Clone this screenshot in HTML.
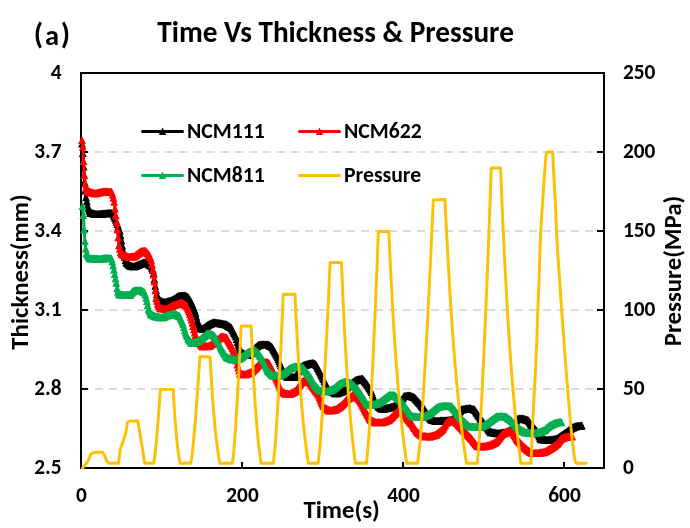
<!DOCTYPE html>
<html><head><meta charset="utf-8"><title>Time Vs Thickness &amp; Pressure</title>
<style>html,body{margin:0;padding:0;background:#fff;}body{width:690px;height:528px;overflow:hidden;}svg{display:block;}</style>
</head><body><svg width="690" height="528" viewBox="0 0 690 528"><rect width="690" height="528" fill="#fff"/><line x1="81" y1="152" x2="604" y2="152" stroke="#D0D0D0" stroke-width="1.6" stroke-dasharray="8 6"/><line x1="81" y1="231" x2="604" y2="231" stroke="#D0D0D0" stroke-width="1.6" stroke-dasharray="8 6"/><line x1="81" y1="310" x2="604" y2="310" stroke="#D0D0D0" stroke-width="1.6" stroke-dasharray="8 6"/><line x1="81" y1="389" x2="604" y2="389" stroke="#D0D0D0" stroke-width="1.6" stroke-dasharray="8 6"/><rect x="81" y="73" width="523" height="395" fill="none" stroke="#000" stroke-width="2"/><path d="M81 152h7M604 152h-7M81 231h7M604 231h-7M81 310h7M604 310h-7M81 389h7M604 389h-7M242 468v-6M403 468v-6M564 468v-6" stroke="#000" stroke-width="2" fill="none"/><polyline points="82,143.5 82.8,152.8 83.6,166.4 84.4,181.5 85.2,190.3 86,197.1 86.8,201.1 87.6,205.2 88.4,208.2 89.2,210.4 90,212.5 90.9,212.8 91.7,213 92.5,213.2 93.3,213.5 94.1,213.7 94.9,214 95.7,214 96.5,214 97.3,214 98.1,214 98.9,214 99.7,214 100.5,213.9 101.3,213.9 102.1,213.8 102.9,213.7 103.7,213.6 104.5,213.5 105.3,213.5 106.2,213.4 107,213.3 107.8,213.2 108.6,213.1 109.4,213.1 110.2,213 111,213.2 111.8,213.3 112.6,213.4 113.4,214.4 114.2,216.1 115,217.8 115.8,219.6 116.6,221.7 117.4,223.9 118.2,226.1 119,228.3 119.8,230.5 120.6,235.1 121.4,240.2 122.2,245.2 123.1,250.2 123.9,253.4 124.7,256.7 125.5,259.9 126.3,262.2 127.1,262.9 127.9,263.6 128.7,264.4 129.5,265.1 130.3,265.6 131.1,265.8 131.9,266 132.7,266.2 133.5,266.4 134.3,266.4 135.1,266 135.9,265.7 136.7,265.4 137.5,265 138.3,264.7 139.2,264.4 140,264 140.8,263.7 141.6,263.3 142.4,263 143.2,262.6 144,262.5 144.8,262.5 145.6,262.5 146.4,262.7 147.2,263.2 148,263.7 148.8,264.2 149.6,264.7 150.4,265.2 151.2,266 152,267.8 152.8,269.6 153.6,272.8 154.4,279.2 155.3,285.6 156.1,289.8 156.9,293.8 157.7,296.3 158.5,297.8 159.3,299.2 160.1,300.5 160.9,300.9 161.7,301.3 162.5,301.8 163.3,302 164.1,302 164.9,302 165.7,302 166.5,301.9 167.3,301.7 168.1,301.4 168.9,301.1 169.7,300.9 170.6,300.6 171.4,300.3 172.2,300.1 173,299.6 173.8,299.1 174.6,298.6 175.4,298 176.2,297.5 177,296.9 177.8,296.4 178.6,296 179.4,295.9 180.2,295.9 181,295.8 181.8,295.7 182.6,295.7 183.4,295.6 184.2,295.5 185,295.7 185.8,296.1 186.7,296.4 187.5,296.8 188.3,297.4 189.1,298.6 189.9,299.9 190.7,301.1 191.5,302.4 192.3,304 193.1,306.1 193.9,308.3 194.7,310.4 195.5,312.9 196.3,316.3 197.1,319.6 197.9,322 198.7,324.2 199.5,326.5 200.3,327.8 201.1,328.2 201.9,328.7 202.8,328.8 203.6,328.2 204.4,327.6 205.2,327 206,326.4 206.8,325.8 207.6,325.2 208.4,324.7 209.2,324.3 210,323.9 210.8,323.6 211.6,323.2 212.4,322.8 213.2,322.5 214,322.6 214.8,322.7 215.6,322.7 216.4,322.8 217.2,322.9 218,323 218.8,323.1 219.7,323.2 220.5,323.4 221.3,323.5 222.1,323.7 222.9,323.8 223.7,324 224.5,324.1 225.3,324.3 226.1,324.4 226.9,324.8 227.7,325.3 228.5,325.9 229.3,326.4 230.1,326.9 230.9,327.5 231.7,328.1 232.5,329.7 233.3,331.3 234.1,332.9 235,334.5 235.8,336.2 236.6,339 237.4,341.8 238.2,344.6 239,346.6 239.8,348.6 240.6,350.5 241.4,352.1 242.2,352.6 243,353.1 243.8,353.6 244.6,354.1 245.4,354.6 246.2,355 247,354.9 247.8,354.8 248.6,354.7 249.4,354.6 250.2,354.2 251.1,353.1 251.9,352.1 252.7,351 253.5,350 254.3,348.9 255.1,347.9 255.9,347.2 256.7,346.5 257.5,345.8 258.3,345.2 259.1,344.8 259.9,344.8 260.7,344.7 261.5,344.7 262.3,344.7 263.1,344.7 263.9,344.6 264.7,344.6 265.5,344.6 266.3,344.6 267.1,344.5 268,344.5 268.8,344.9 269.6,345.4 270.4,345.9 271.2,346.5 272,347 272.8,348.3 273.6,349.7 274.4,351.1 275.2,352.4 276,353.8 276.8,355.3 277.6,357.2 278.4,359.2 279.2,361.1 280,363.1 280.8,364.8 281.6,366.5 282.4,368.2 283.2,369.9 284.1,371.4 284.9,373 285.7,374.5 286.5,376 287.3,377 288.1,377 288.9,377 289.7,377 290.5,377 291.3,377 292.1,377 292.9,377 293.7,377 294.5,377 295.3,376.4 296.1,375 296.9,373.5 297.7,372.1 298.5,370.6 299.4,369.2 300.2,367.9 301,367.2 301.8,366.5 302.6,365.9 303.4,365.4 304.2,365.1 305,364.9 305.8,364.6 306.6,364.4 307.4,364.1 308.2,363.9 309,363.7 309.8,363.6 310.6,363.4 311.4,363.3 312.2,363.1 313,363 313.8,363.4 314.6,363.8 315.5,364.2 316.3,365 317.1,366.5 317.9,367.9 318.7,369.4 319.5,370.9 320.3,372.5 321.1,374.1 321.9,375.7 322.7,377.4 323.5,379 324.3,380.6 325.1,382.2 325.9,383.7 326.7,385.3 327.5,386.8 328.3,388.3 329.1,389.9 329.9,390.4 330.7,390.8 331.6,391.2 332.4,391.6 333.2,392 334,392.5 334.8,392.9 335.6,393.3 336.4,393.4 337.2,393.1 338,392.8 338.8,392.5 339.6,392.2 340.4,392 341.2,391.7 342,391.4 342.8,391 343.6,390.3 344.4,389.5 345.2,388.8 346,388 346.8,387.3 347.7,386.5 348.5,385.8 349.3,385 350.1,384.4 350.9,383.8 351.7,383.2 352.5,382.5 353.3,381.9 354.1,381.3 354.9,380.7 355.7,380.1 356.5,379.8 357.3,379.6 358.1,379.5 358.9,379.3 359.7,379.1 360.5,379 361.3,378.8 362.1,378.7 362.9,379.2 363.8,380.2 364.6,381.2 365.4,382.2 366.2,383.2 367,384.2 367.8,385.2 368.6,386.5 369.4,387.8 370.2,389.1 371,390.5 371.8,391.8 372.6,394.3 373.4,396.8 374.2,399.2 375,400.9 375.8,402.3 376.6,403.6 377.4,405 378.2,406.2 379,406.7 379.9,407.3 380.7,407.8 381.5,408.4 382.3,408.9 383.1,408.9 383.9,408.7 384.7,408.5 385.5,408.3 386.3,408.2 387.1,408 387.9,407.8 388.7,407.6 389.5,407.5 390.3,407.3 391.1,407.1 391.9,406.9 392.7,406.6 393.5,406.3 394.3,406 395.1,405.6 396,405.3 396.8,405 397.6,404.7 398.4,404.3 399.2,403.1 400,402 400.8,400.8 401.6,399.7 402.4,398.5 403.2,397.4 404,396.2 404.8,396.1 405.6,396 406.4,395.9 407.2,395.8 408,395.7 408.8,395.6 409.6,395.6 410.4,395.9 411.2,396.2 412.1,396.5 412.9,396.8 413.7,397.1 414.5,397.4 415.3,398.3 416.1,399.2 416.9,400.1 417.7,401 418.5,401.9 419.3,402.8 420.1,403.7 420.9,404.8 421.7,405.8 422.5,406.8 423.3,407.8 424.1,408.8 424.9,409.8 425.7,411 426.5,412.4 427.3,413.7 428.2,415.1 429,416.4 429.8,417.8 430.6,419 431.4,419.3 432.2,419.6 433,419.9 433.8,420.2 434.6,420.5 435.4,420.8 436.2,421 437,420.9 437.8,420.9 438.6,420.8 439.4,420.8 440.2,420.7 441,420.7 441.8,420.7 442.6,420.6 443.4,420.6 444.2,420.6 445.1,420.6 445.9,420.5 446.7,420.5 447.5,420.4 448.3,420.3 449.1,420.2 449.9,420.2 450.7,420.1 451.5,420 452.3,419.3 453.1,418.5 453.9,417.8 454.7,417.1 455.5,416.3 456.3,415.6 457.1,414.8 457.9,413.8 458.7,412.8 459.5,411.7 460.4,410.7 461.2,409.7 462,409.4 462.8,409.3 463.6,409.1 464.4,409 465.2,408.9 466,408.7 466.8,408.6 467.6,408.5 468.4,408.3 469.2,408.2 470,408.4 470.8,408.6 471.6,408.8 472.4,409 473.2,409.2 474,409.4 474.8,409.9 475.6,411.1 476.5,412.3 477.3,413.5 478.1,414.7 478.9,415.9 479.7,417.2 480.5,418.3 481.3,419.4 482.1,420.5 482.9,421.6 483.7,422.7 484.5,423.8 485.3,424.9 486.1,426 486.9,427.1 487.7,428.2 488.5,429.3 489.3,430.4 490.1,431.5 490.9,432.1 491.7,432.2 492.6,432.4 493.4,432.5 494.2,432.6 495,432.8 495.8,432.9 496.6,433.1 497.4,433.2 498.2,433.4 499,433.3 499.8,433.2 500.6,433 501.4,432.9 502.2,432.7 503,432.6 503.8,432.5 504.6,432.3 505.4,432.2 506.2,432 507,431.7 507.8,431.3 508.7,430.9 509.5,430.5 510.3,430.1 511.1,429.7 511.9,429.1 512.7,427.5 513.5,425.9 514.3,424.3 515.1,422.7 515.9,421.2 516.7,419.6 517.5,419 518.3,418.9 519.1,418.8 519.9,418.7 520.7,418.6 521.5,418.6 522.3,418.5 523.1,418.7 523.9,419 524.8,419.2 525.6,419.4 526.4,419.7 527.2,419.9 528,420.1 528.8,420.9 529.6,422.1 530.4,423.4 531.2,424.6 532,425.8 532.8,426.6 533.6,427.5 534.4,428.4 535.2,429.2 536,430.1 536.8,430.9 537.6,432.6 538.4,434.3 539.2,436.1 540,437.8 540.9,439 541.7,439.2 542.5,439.3 543.3,439.4 544.1,439.6 544.9,439.7 545.7,439.8 546.5,439.9 547.3,440 548.1,439.9 548.9,439.8 549.7,439.8 550.5,439.7 551.3,439.6 552.1,439.6 552.9,439.5 553.7,439.3 554.5,439.1 555.3,438.9 556.1,438.7 557,438.5 557.8,438 558.6,437.4 559.4,436.9 560.2,436.4 561,435.8 561.8,435.3 562.6,434.7 563.4,434.1 564.2,433.6 565,433 565.8,432.5 566.6,431.9 567.4,431.3 568.2,430.7 569,430 569.8,429.4 570.6,428.8 571.4,428.2 572.2,427.7 573,427.4 573.9,427.1 574.7,426.7 575.5,426.4 576.3,426.1 577.1,426 577.9,425.9 578.7,425.9 579.5,425.8 580.3,425.7 581.1,425.7 581.9,425.6" fill="none" stroke="#000000" stroke-width="3" stroke-linejoin="round" stroke-linecap="round"/><path d="M82 139.4l3.9 8.2h-7.8zM82.8 148.7l3.9 8.2h-7.8zM83.6 162.3l3.9 8.2h-7.8zM84.4 177.4l3.9 8.2h-7.8zM85.2 186.2l3.9 8.2h-7.8zM86 193l3.9 8.2h-7.8zM86.8 197l3.9 8.2h-7.8zM87.6 201.1l3.9 8.2h-7.8zM88.4 204.1l3.9 8.2h-7.8zM89.2 206.3l3.9 8.2h-7.8zM90 208.4l3.9 8.2h-7.8zM90.9 208.7l3.9 8.2h-7.8zM91.7 208.9l3.9 8.2h-7.8zM92.5 209.1l3.9 8.2h-7.8zM93.3 209.4l3.9 8.2h-7.8zM94.1 209.6l3.9 8.2h-7.8zM94.9 209.9l3.9 8.2h-7.8zM95.7 209.9l3.9 8.2h-7.8zM96.5 209.9l3.9 8.2h-7.8zM97.3 209.9l3.9 8.2h-7.8zM98.1 209.9l3.9 8.2h-7.8zM98.9 209.9l3.9 8.2h-7.8zM99.7 209.9l3.9 8.2h-7.8zM100.5 209.8l3.9 8.2h-7.8zM101.3 209.8l3.9 8.2h-7.8zM102.1 209.7l3.9 8.2h-7.8zM102.9 209.6l3.9 8.2h-7.8zM103.7 209.5l3.9 8.2h-7.8zM104.5 209.4l3.9 8.2h-7.8zM105.3 209.4l3.9 8.2h-7.8zM106.2 209.3l3.9 8.2h-7.8zM107 209.2l3.9 8.2h-7.8zM107.8 209.1l3.9 8.2h-7.8zM108.6 209l3.9 8.2h-7.8zM109.4 209l3.9 8.2h-7.8zM110.2 208.9l3.9 8.2h-7.8zM111 209.1l3.9 8.2h-7.8zM111.8 209.2l3.9 8.2h-7.8zM112.6 209.3l3.9 8.2h-7.8zM113.4 210.3l3.9 8.2h-7.8zM114.2 212l3.9 8.2h-7.8zM115 213.7l3.9 8.2h-7.8zM115.8 215.5l3.9 8.2h-7.8zM116.6 217.6l3.9 8.2h-7.8zM117.4 219.8l3.9 8.2h-7.8zM118.2 222l3.9 8.2h-7.8zM119 224.2l3.9 8.2h-7.8zM119.8 226.4l3.9 8.2h-7.8zM120.6 231l3.9 8.2h-7.8zM121.4 236.1l3.9 8.2h-7.8zM122.2 241.2l3.9 8.2h-7.8zM123.1 246.1l3.9 8.2h-7.8zM123.9 249.3l3.9 8.2h-7.8zM124.7 252.6l3.9 8.2h-7.8zM125.5 255.8l3.9 8.2h-7.8zM126.3 258.1l3.9 8.2h-7.8zM127.1 258.8l3.9 8.2h-7.8zM127.9 259.5l3.9 8.2h-7.8zM128.7 260.3l3.9 8.2h-7.8zM129.5 261l3.9 8.2h-7.8zM130.3 261.5l3.9 8.2h-7.8zM131.1 261.7l3.9 8.2h-7.8zM131.9 261.9l3.9 8.2h-7.8zM132.7 262.1l3.9 8.2h-7.8zM133.5 262.3l3.9 8.2h-7.8zM134.3 262.3l3.9 8.2h-7.8zM135.1 261.9l3.9 8.2h-7.8zM135.9 261.6l3.9 8.2h-7.8zM136.7 261.3l3.9 8.2h-7.8zM137.5 260.9l3.9 8.2h-7.8zM138.3 260.6l3.9 8.2h-7.8zM139.2 260.3l3.9 8.2h-7.8zM140 259.9l3.9 8.2h-7.8zM140.8 259.6l3.9 8.2h-7.8zM141.6 259.2l3.9 8.2h-7.8zM142.4 258.9l3.9 8.2h-7.8zM143.2 258.5l3.9 8.2h-7.8zM144 258.4l3.9 8.2h-7.8zM144.8 258.4l3.9 8.2h-7.8zM145.6 258.4l3.9 8.2h-7.8zM146.4 258.6l3.9 8.2h-7.8zM147.2 259.1l3.9 8.2h-7.8zM148 259.6l3.9 8.2h-7.8zM148.8 260.1l3.9 8.2h-7.8zM149.6 260.6l3.9 8.2h-7.8zM150.4 261.1l3.9 8.2h-7.8zM151.2 261.9l3.9 8.2h-7.8zM152 263.7l3.9 8.2h-7.8zM152.8 265.5l3.9 8.2h-7.8zM153.6 268.7l3.9 8.2h-7.8zM154.4 275.1l3.9 8.2h-7.8zM155.3 281.5l3.9 8.2h-7.8zM156.1 285.7l3.9 8.2h-7.8zM156.9 289.7l3.9 8.2h-7.8zM157.7 292.2l3.9 8.2h-7.8zM158.5 293.7l3.9 8.2h-7.8zM159.3 295.1l3.9 8.2h-7.8zM160.1 296.4l3.9 8.2h-7.8zM160.9 296.8l3.9 8.2h-7.8zM161.7 297.2l3.9 8.2h-7.8zM162.5 297.6l3.9 8.2h-7.8zM163.3 297.9l3.9 8.2h-7.8zM164.1 297.9l3.9 8.2h-7.8zM164.9 297.9l3.9 8.2h-7.8zM165.7 297.9l3.9 8.2h-7.8zM166.5 297.8l3.9 8.2h-7.8zM167.3 297.6l3.9 8.2h-7.8zM168.1 297.3l3.9 8.2h-7.8zM168.9 297l3.9 8.2h-7.8zM169.7 296.8l3.9 8.2h-7.8zM170.6 296.5l3.9 8.2h-7.8zM171.4 296.2l3.9 8.2h-7.8zM172.2 296l3.9 8.2h-7.8zM173 295.5l3.9 8.2h-7.8zM173.8 295l3.9 8.2h-7.8zM174.6 294.4l3.9 8.2h-7.8zM175.4 293.9l3.9 8.2h-7.8zM176.2 293.4l3.9 8.2h-7.8zM177 292.8l3.9 8.2h-7.8zM177.8 292.3l3.9 8.2h-7.8zM178.6 291.9l3.9 8.2h-7.8zM179.4 291.8l3.9 8.2h-7.8zM180.2 291.8l3.9 8.2h-7.8zM181 291.7l3.9 8.2h-7.8zM181.8 291.6l3.9 8.2h-7.8zM182.6 291.6l3.9 8.2h-7.8zM183.4 291.5l3.9 8.2h-7.8zM184.2 291.4l3.9 8.2h-7.8zM185 291.6l3.9 8.2h-7.8zM185.8 292l3.9 8.2h-7.8zM186.7 292.3l3.9 8.2h-7.8zM187.5 292.7l3.9 8.2h-7.8zM188.3 293.3l3.9 8.2h-7.8zM189.1 294.5l3.9 8.2h-7.8zM189.9 295.8l3.9 8.2h-7.8zM190.7 297l3.9 8.2h-7.8zM191.5 298.3l3.9 8.2h-7.8zM192.3 299.9l3.9 8.2h-7.8zM193.1 302l3.9 8.2h-7.8zM193.9 304.2l3.9 8.2h-7.8zM194.7 306.3l3.9 8.2h-7.8zM195.5 308.8l3.9 8.2h-7.8zM196.3 312.2l3.9 8.2h-7.8zM197.1 315.5l3.9 8.2h-7.8zM197.9 317.9l3.9 8.2h-7.8zM198.7 320.1l3.9 8.2h-7.8zM199.5 322.4l3.9 8.2h-7.8zM200.3 323.7l3.9 8.2h-7.8zM201.1 324.1l3.9 8.2h-7.8zM201.9 324.6l3.9 8.2h-7.8zM202.8 324.7l3.9 8.2h-7.8zM203.6 324.1l3.9 8.2h-7.8zM204.4 323.5l3.9 8.2h-7.8zM205.2 322.9l3.9 8.2h-7.8zM206 322.3l3.9 8.2h-7.8zM206.8 321.7l3.9 8.2h-7.8zM207.6 321.1l3.9 8.2h-7.8zM208.4 320.6l3.9 8.2h-7.8zM209.2 320.2l3.9 8.2h-7.8zM210 319.8l3.9 8.2h-7.8zM210.8 319.5l3.9 8.2h-7.8zM211.6 319.1l3.9 8.2h-7.8zM212.4 318.7l3.9 8.2h-7.8zM213.2 318.4l3.9 8.2h-7.8zM214 318.5l3.9 8.2h-7.8zM214.8 318.6l3.9 8.2h-7.8zM215.6 318.6l3.9 8.2h-7.8zM216.4 318.7l3.9 8.2h-7.8zM217.2 318.8l3.9 8.2h-7.8zM218 318.9l3.9 8.2h-7.8zM218.8 319l3.9 8.2h-7.8zM219.7 319.1l3.9 8.2h-7.8zM220.5 319.3l3.9 8.2h-7.8zM221.3 319.4l3.9 8.2h-7.8zM222.1 319.6l3.9 8.2h-7.8zM222.9 319.7l3.9 8.2h-7.8zM223.7 319.9l3.9 8.2h-7.8zM224.5 320l3.9 8.2h-7.8zM225.3 320.2l3.9 8.2h-7.8zM226.1 320.3l3.9 8.2h-7.8zM226.9 320.7l3.9 8.2h-7.8zM227.7 321.2l3.9 8.2h-7.8zM228.5 321.8l3.9 8.2h-7.8zM229.3 322.3l3.9 8.2h-7.8zM230.1 322.8l3.9 8.2h-7.8zM230.9 323.4l3.9 8.2h-7.8zM231.7 324l3.9 8.2h-7.8zM232.5 325.6l3.9 8.2h-7.8zM233.3 327.2l3.9 8.2h-7.8zM234.1 328.8l3.9 8.2h-7.8zM235 330.4l3.9 8.2h-7.8zM235.8 332.1l3.9 8.2h-7.8zM236.6 334.9l3.9 8.2h-7.8zM237.4 337.7l3.9 8.2h-7.8zM238.2 340.4l3.9 8.2h-7.8zM239 342.5l3.9 8.2h-7.8zM239.8 344.5l3.9 8.2h-7.8zM240.6 346.4l3.9 8.2h-7.8zM241.4 348l3.9 8.2h-7.8zM242.2 348.5l3.9 8.2h-7.8zM243 349l3.9 8.2h-7.8zM243.8 349.5l3.9 8.2h-7.8zM244.6 350l3.9 8.2h-7.8zM245.4 350.5l3.9 8.2h-7.8zM246.2 350.9l3.9 8.2h-7.8zM247 350.8l3.9 8.2h-7.8zM247.8 350.7l3.9 8.2h-7.8zM248.6 350.6l3.9 8.2h-7.8zM249.4 350.5l3.9 8.2h-7.8zM250.2 350.1l3.9 8.2h-7.8zM251.1 349l3.9 8.2h-7.8zM251.9 348l3.9 8.2h-7.8zM252.7 346.9l3.9 8.2h-7.8zM253.5 345.9l3.9 8.2h-7.8zM254.3 344.8l3.9 8.2h-7.8zM255.1 343.8l3.9 8.2h-7.8zM255.9 343.1l3.9 8.2h-7.8zM256.7 342.4l3.9 8.2h-7.8zM257.5 341.7l3.9 8.2h-7.8zM258.3 341.1l3.9 8.2h-7.8zM259.1 340.7l3.9 8.2h-7.8zM259.9 340.7l3.9 8.2h-7.8zM260.7 340.6l3.9 8.2h-7.8zM261.5 340.6l3.9 8.2h-7.8zM262.3 340.6l3.9 8.2h-7.8zM263.1 340.6l3.9 8.2h-7.8zM263.9 340.5l3.9 8.2h-7.8zM264.7 340.5l3.9 8.2h-7.8zM265.5 340.5l3.9 8.2h-7.8zM266.3 340.5l3.9 8.2h-7.8zM267.1 340.4l3.9 8.2h-7.8zM268 340.4l3.9 8.2h-7.8zM268.8 340.8l3.9 8.2h-7.8zM269.6 341.3l3.9 8.2h-7.8zM270.4 341.8l3.9 8.2h-7.8zM271.2 342.4l3.9 8.2h-7.8zM272 342.9l3.9 8.2h-7.8zM272.8 344.2l3.9 8.2h-7.8zM273.6 345.6l3.9 8.2h-7.8zM274.4 347l3.9 8.2h-7.8zM275.2 348.3l3.9 8.2h-7.8zM276 349.7l3.9 8.2h-7.8zM276.8 351.2l3.9 8.2h-7.8zM277.6 353.1l3.9 8.2h-7.8zM278.4 355.1l3.9 8.2h-7.8zM279.2 357l3.9 8.2h-7.8zM280 359l3.9 8.2h-7.8zM280.8 360.7l3.9 8.2h-7.8zM281.6 362.4l3.9 8.2h-7.8zM282.4 364.1l3.9 8.2h-7.8zM283.2 365.8l3.9 8.2h-7.8zM284.1 367.3l3.9 8.2h-7.8zM284.9 368.9l3.9 8.2h-7.8zM285.7 370.4l3.9 8.2h-7.8zM286.5 371.9l3.9 8.2h-7.8zM287.3 372.9l3.9 8.2h-7.8zM288.1 372.9l3.9 8.2h-7.8zM288.9 372.9l3.9 8.2h-7.8zM289.7 372.9l3.9 8.2h-7.8zM290.5 372.9l3.9 8.2h-7.8zM291.3 372.9l3.9 8.2h-7.8zM292.1 372.9l3.9 8.2h-7.8zM292.9 372.9l3.9 8.2h-7.8zM293.7 372.9l3.9 8.2h-7.8zM294.5 372.9l3.9 8.2h-7.8zM295.3 372.3l3.9 8.2h-7.8zM296.1 370.9l3.9 8.2h-7.8zM296.9 369.4l3.9 8.2h-7.8zM297.7 368l3.9 8.2h-7.8zM298.5 366.5l3.9 8.2h-7.8zM299.4 365.1l3.9 8.2h-7.8zM300.2 363.8l3.9 8.2h-7.8zM301 363.1l3.9 8.2h-7.8zM301.8 362.4l3.9 8.2h-7.8zM302.6 361.8l3.9 8.2h-7.8zM303.4 361.3l3.9 8.2h-7.8zM304.2 361l3.9 8.2h-7.8zM305 360.8l3.9 8.2h-7.8zM305.8 360.5l3.9 8.2h-7.8zM306.6 360.3l3.9 8.2h-7.8zM307.4 360l3.9 8.2h-7.8zM308.2 359.8l3.9 8.2h-7.8zM309 359.6l3.9 8.2h-7.8zM309.8 359.5l3.9 8.2h-7.8zM310.6 359.3l3.9 8.2h-7.8zM311.4 359.2l3.9 8.2h-7.8zM312.2 359l3.9 8.2h-7.8zM313 358.9l3.9 8.2h-7.8zM313.8 359.3l3.9 8.2h-7.8zM314.6 359.7l3.9 8.2h-7.8zM315.5 360.1l3.9 8.2h-7.8zM316.3 360.9l3.9 8.2h-7.8zM317.1 362.4l3.9 8.2h-7.8zM317.9 363.8l3.9 8.2h-7.8zM318.7 365.3l3.9 8.2h-7.8zM319.5 366.8l3.9 8.2h-7.8zM320.3 368.4l3.9 8.2h-7.8zM321.1 370l3.9 8.2h-7.8zM321.9 371.6l3.9 8.2h-7.8zM322.7 373.3l3.9 8.2h-7.8zM323.5 374.9l3.9 8.2h-7.8zM324.3 376.5l3.9 8.2h-7.8zM325.1 378.1l3.9 8.2h-7.8zM325.9 379.6l3.9 8.2h-7.8zM326.7 381.2l3.9 8.2h-7.8zM327.5 382.7l3.9 8.2h-7.8zM328.3 384.2l3.9 8.2h-7.8zM329.1 385.8l3.9 8.2h-7.8zM329.9 386.3l3.9 8.2h-7.8zM330.7 386.7l3.9 8.2h-7.8zM331.6 387.1l3.9 8.2h-7.8zM332.4 387.5l3.9 8.2h-7.8zM333.2 387.9l3.9 8.2h-7.8zM334 388.4l3.9 8.2h-7.8zM334.8 388.8l3.9 8.2h-7.8zM335.6 389.2l3.9 8.2h-7.8zM336.4 389.3l3.9 8.2h-7.8zM337.2 389l3.9 8.2h-7.8zM338 388.7l3.9 8.2h-7.8zM338.8 388.4l3.9 8.2h-7.8zM339.6 388.1l3.9 8.2h-7.8zM340.4 387.9l3.9 8.2h-7.8zM341.2 387.6l3.9 8.2h-7.8zM342 387.3l3.9 8.2h-7.8zM342.8 386.9l3.9 8.2h-7.8zM343.6 386.2l3.9 8.2h-7.8zM344.4 385.4l3.9 8.2h-7.8zM345.2 384.7l3.9 8.2h-7.8zM346 383.9l3.9 8.2h-7.8zM346.8 383.2l3.9 8.2h-7.8zM347.7 382.4l3.9 8.2h-7.8zM348.5 381.7l3.9 8.2h-7.8zM349.3 380.9l3.9 8.2h-7.8zM350.1 380.3l3.9 8.2h-7.8zM350.9 379.7l3.9 8.2h-7.8zM351.7 379.1l3.9 8.2h-7.8zM352.5 378.4l3.9 8.2h-7.8zM353.3 377.8l3.9 8.2h-7.8zM354.1 377.2l3.9 8.2h-7.8zM354.9 376.6l3.9 8.2h-7.8zM355.7 376l3.9 8.2h-7.8zM356.5 375.7l3.9 8.2h-7.8zM357.3 375.5l3.9 8.2h-7.8zM358.1 375.4l3.9 8.2h-7.8zM358.9 375.2l3.9 8.2h-7.8zM359.7 375l3.9 8.2h-7.8zM360.5 374.9l3.9 8.2h-7.8zM361.3 374.7l3.9 8.2h-7.8zM362.1 374.6l3.9 8.2h-7.8zM362.9 375.1l3.9 8.2h-7.8zM363.8 376.1l3.9 8.2h-7.8zM364.6 377.1l3.9 8.2h-7.8zM365.4 378.1l3.9 8.2h-7.8zM366.2 379.1l3.9 8.2h-7.8zM367 380.1l3.9 8.2h-7.8zM367.8 381.1l3.9 8.2h-7.8zM368.6 382.4l3.9 8.2h-7.8zM369.4 383.7l3.9 8.2h-7.8zM370.2 385l3.9 8.2h-7.8zM371 386.4l3.9 8.2h-7.8zM371.8 387.7l3.9 8.2h-7.8zM372.6 390.2l3.9 8.2h-7.8zM373.4 392.7l3.9 8.2h-7.8zM374.2 395.1l3.9 8.2h-7.8zM375 396.8l3.9 8.2h-7.8zM375.8 398.2l3.9 8.2h-7.8zM376.6 399.5l3.9 8.2h-7.8zM377.4 400.9l3.9 8.2h-7.8zM378.2 402.1l3.9 8.2h-7.8zM379 402.6l3.9 8.2h-7.8zM379.9 403.2l3.9 8.2h-7.8zM380.7 403.7l3.9 8.2h-7.8zM381.5 404.3l3.9 8.2h-7.8zM382.3 404.8l3.9 8.2h-7.8zM383.1 404.8l3.9 8.2h-7.8zM383.9 404.6l3.9 8.2h-7.8zM384.7 404.4l3.9 8.2h-7.8zM385.5 404.2l3.9 8.2h-7.8zM386.3 404.1l3.9 8.2h-7.8zM387.1 403.9l3.9 8.2h-7.8zM387.9 403.7l3.9 8.2h-7.8zM388.7 403.5l3.9 8.2h-7.8zM389.5 403.4l3.9 8.2h-7.8zM390.3 403.2l3.9 8.2h-7.8zM391.1 403l3.9 8.2h-7.8zM391.9 402.8l3.9 8.2h-7.8zM392.7 402.5l3.9 8.2h-7.8zM393.5 402.2l3.9 8.2h-7.8zM394.3 401.9l3.9 8.2h-7.8zM395.1 401.5l3.9 8.2h-7.8zM396 401.2l3.9 8.2h-7.8zM396.8 400.9l3.9 8.2h-7.8zM397.6 400.6l3.9 8.2h-7.8zM398.4 400.2l3.9 8.2h-7.8zM399.2 399l3.9 8.2h-7.8zM400 397.9l3.9 8.2h-7.8zM400.8 396.7l3.9 8.2h-7.8zM401.6 395.6l3.9 8.2h-7.8zM402.4 394.4l3.9 8.2h-7.8zM403.2 393.3l3.9 8.2h-7.8zM404 392.1l3.9 8.2h-7.8zM404.8 392l3.9 8.2h-7.8zM405.6 391.9l3.9 8.2h-7.8zM406.4 391.8l3.9 8.2h-7.8zM407.2 391.7l3.9 8.2h-7.8zM408 391.6l3.9 8.2h-7.8zM408.8 391.5l3.9 8.2h-7.8zM409.6 391.5l3.9 8.2h-7.8zM410.4 391.8l3.9 8.2h-7.8zM411.2 392.1l3.9 8.2h-7.8zM412.1 392.4l3.9 8.2h-7.8zM412.9 392.7l3.9 8.2h-7.8zM413.7 393l3.9 8.2h-7.8zM414.5 393.3l3.9 8.2h-7.8zM415.3 394.2l3.9 8.2h-7.8zM416.1 395.1l3.9 8.2h-7.8zM416.9 396l3.9 8.2h-7.8zM417.7 396.9l3.9 8.2h-7.8zM418.5 397.8l3.9 8.2h-7.8zM419.3 398.7l3.9 8.2h-7.8zM420.1 399.6l3.9 8.2h-7.8zM420.9 400.7l3.9 8.2h-7.8zM421.7 401.7l3.9 8.2h-7.8zM422.5 402.7l3.9 8.2h-7.8zM423.3 403.7l3.9 8.2h-7.8zM424.1 404.7l3.9 8.2h-7.8zM424.9 405.7l3.9 8.2h-7.8zM425.7 406.9l3.9 8.2h-7.8zM426.5 408.3l3.9 8.2h-7.8zM427.3 409.6l3.9 8.2h-7.8zM428.2 411l3.9 8.2h-7.8zM429 412.3l3.9 8.2h-7.8zM429.8 413.7l3.9 8.2h-7.8zM430.6 414.9l3.9 8.2h-7.8zM431.4 415.2l3.9 8.2h-7.8zM432.2 415.5l3.9 8.2h-7.8zM433 415.8l3.9 8.2h-7.8zM433.8 416.1l3.9 8.2h-7.8zM434.6 416.4l3.9 8.2h-7.8zM435.4 416.7l3.9 8.2h-7.8zM436.2 416.9l3.9 8.2h-7.8zM437 416.8l3.9 8.2h-7.8zM437.8 416.8l3.9 8.2h-7.8zM438.6 416.7l3.9 8.2h-7.8zM439.4 416.7l3.9 8.2h-7.8zM440.2 416.6l3.9 8.2h-7.8zM441 416.6l3.9 8.2h-7.8zM441.8 416.6l3.9 8.2h-7.8zM442.6 416.5l3.9 8.2h-7.8zM443.4 416.5l3.9 8.2h-7.8zM444.2 416.5l3.9 8.2h-7.8zM445.1 416.5l3.9 8.2h-7.8zM445.9 416.4l3.9 8.2h-7.8zM446.7 416.4l3.9 8.2h-7.8zM447.5 416.3l3.9 8.2h-7.8zM448.3 416.2l3.9 8.2h-7.8zM449.1 416.1l3.9 8.2h-7.8zM449.9 416.1l3.9 8.2h-7.8zM450.7 416l3.9 8.2h-7.8zM451.5 415.9l3.9 8.2h-7.8zM452.3 415.2l3.9 8.2h-7.8zM453.1 414.4l3.9 8.2h-7.8zM453.9 413.7l3.9 8.2h-7.8zM454.7 413l3.9 8.2h-7.8zM455.5 412.2l3.9 8.2h-7.8zM456.3 411.5l3.9 8.2h-7.8zM457.1 410.7l3.9 8.2h-7.8zM457.9 409.7l3.9 8.2h-7.8zM458.7 408.7l3.9 8.2h-7.8zM459.5 407.6l3.9 8.2h-7.8zM460.4 406.6l3.9 8.2h-7.8zM461.2 405.6l3.9 8.2h-7.8zM462 405.3l3.9 8.2h-7.8zM462.8 405.2l3.9 8.2h-7.8zM463.6 405l3.9 8.2h-7.8zM464.4 404.9l3.9 8.2h-7.8zM465.2 404.8l3.9 8.2h-7.8zM466 404.6l3.9 8.2h-7.8zM466.8 404.5l3.9 8.2h-7.8zM467.6 404.4l3.9 8.2h-7.8zM468.4 404.2l3.9 8.2h-7.8zM469.2 404.1l3.9 8.2h-7.8zM470 404.3l3.9 8.2h-7.8zM470.8 404.5l3.9 8.2h-7.8zM471.6 404.7l3.9 8.2h-7.8zM472.4 404.9l3.9 8.2h-7.8zM473.2 405.1l3.9 8.2h-7.8zM474 405.3l3.9 8.2h-7.8zM474.8 405.8l3.9 8.2h-7.8zM475.6 407l3.9 8.2h-7.8zM476.5 408.2l3.9 8.2h-7.8zM477.3 409.4l3.9 8.2h-7.8zM478.1 410.6l3.9 8.2h-7.8zM478.9 411.8l3.9 8.2h-7.8zM479.7 413.1l3.9 8.2h-7.8zM480.5 414.2l3.9 8.2h-7.8zM481.3 415.3l3.9 8.2h-7.8zM482.1 416.4l3.9 8.2h-7.8zM482.9 417.5l3.9 8.2h-7.8zM483.7 418.6l3.9 8.2h-7.8zM484.5 419.7l3.9 8.2h-7.8zM485.3 420.8l3.9 8.2h-7.8zM486.1 421.9l3.9 8.2h-7.8zM486.9 423l3.9 8.2h-7.8zM487.7 424.1l3.9 8.2h-7.8zM488.5 425.2l3.9 8.2h-7.8zM489.3 426.3l3.9 8.2h-7.8zM490.1 427.4l3.9 8.2h-7.8zM490.9 428l3.9 8.2h-7.8zM491.7 428.1l3.9 8.2h-7.8zM492.6 428.3l3.9 8.2h-7.8zM493.4 428.4l3.9 8.2h-7.8zM494.2 428.5l3.9 8.2h-7.8zM495 428.7l3.9 8.2h-7.8zM495.8 428.8l3.9 8.2h-7.8zM496.6 429l3.9 8.2h-7.8zM497.4 429.1l3.9 8.2h-7.8zM498.2 429.3l3.9 8.2h-7.8zM499 429.2l3.9 8.2h-7.8zM499.8 429.1l3.9 8.2h-7.8zM500.6 428.9l3.9 8.2h-7.8zM501.4 428.8l3.9 8.2h-7.8zM502.2 428.6l3.9 8.2h-7.8zM503 428.5l3.9 8.2h-7.8zM503.8 428.4l3.9 8.2h-7.8zM504.6 428.2l3.9 8.2h-7.8zM505.4 428.1l3.9 8.2h-7.8zM506.2 427.9l3.9 8.2h-7.8zM507 427.6l3.9 8.2h-7.8zM507.8 427.2l3.9 8.2h-7.8zM508.7 426.8l3.9 8.2h-7.8zM509.5 426.4l3.9 8.2h-7.8zM510.3 426l3.9 8.2h-7.8zM511.1 425.6l3.9 8.2h-7.8zM511.9 425l3.9 8.2h-7.8zM512.7 423.4l3.9 8.2h-7.8zM513.5 421.8l3.9 8.2h-7.8zM514.3 420.2l3.9 8.2h-7.8zM515.1 418.6l3.9 8.2h-7.8zM515.9 417.1l3.9 8.2h-7.8zM516.7 415.5l3.9 8.2h-7.8zM517.5 414.9l3.9 8.2h-7.8zM518.3 414.8l3.9 8.2h-7.8zM519.1 414.7l3.9 8.2h-7.8zM519.9 414.6l3.9 8.2h-7.8zM520.7 414.5l3.9 8.2h-7.8zM521.5 414.5l3.9 8.2h-7.8zM522.3 414.4l3.9 8.2h-7.8zM523.1 414.6l3.9 8.2h-7.8zM523.9 414.9l3.9 8.2h-7.8zM524.8 415.1l3.9 8.2h-7.8zM525.6 415.3l3.9 8.2h-7.8zM526.4 415.6l3.9 8.2h-7.8zM527.2 415.8l3.9 8.2h-7.8zM528 416l3.9 8.2h-7.8zM528.8 416.8l3.9 8.2h-7.8zM529.6 418l3.9 8.2h-7.8zM530.4 419.3l3.9 8.2h-7.8zM531.2 420.5l3.9 8.2h-7.8zM532 421.7l3.9 8.2h-7.8zM532.8 422.5l3.9 8.2h-7.8zM533.6 423.4l3.9 8.2h-7.8zM534.4 424.3l3.9 8.2h-7.8zM535.2 425.1l3.9 8.2h-7.8zM536 426l3.9 8.2h-7.8zM536.8 426.8l3.9 8.2h-7.8zM537.6 428.5l3.9 8.2h-7.8zM538.4 430.2l3.9 8.2h-7.8zM539.2 432l3.9 8.2h-7.8zM540 433.7l3.9 8.2h-7.8zM540.9 434.9l3.9 8.2h-7.8zM541.7 435.1l3.9 8.2h-7.8zM542.5 435.2l3.9 8.2h-7.8zM543.3 435.3l3.9 8.2h-7.8zM544.1 435.5l3.9 8.2h-7.8zM544.9 435.6l3.9 8.2h-7.8zM545.7 435.7l3.9 8.2h-7.8zM546.5 435.8l3.9 8.2h-7.8zM547.3 435.9l3.9 8.2h-7.8zM548.1 435.8l3.9 8.2h-7.8zM548.9 435.7l3.9 8.2h-7.8zM549.7 435.7l3.9 8.2h-7.8zM550.5 435.6l3.9 8.2h-7.8zM551.3 435.5l3.9 8.2h-7.8zM552.1 435.5l3.9 8.2h-7.8zM552.9 435.4l3.9 8.2h-7.8zM553.7 435.2l3.9 8.2h-7.8zM554.5 435l3.9 8.2h-7.8zM555.3 434.8l3.9 8.2h-7.8zM556.1 434.6l3.9 8.2h-7.8zM557 434.4l3.9 8.2h-7.8zM557.8 433.9l3.9 8.2h-7.8zM558.6 433.3l3.9 8.2h-7.8zM559.4 432.8l3.9 8.2h-7.8zM560.2 432.3l3.9 8.2h-7.8zM561 431.7l3.9 8.2h-7.8zM561.8 431.2l3.9 8.2h-7.8zM562.6 430.6l3.9 8.2h-7.8zM563.4 430l3.9 8.2h-7.8zM564.2 429.5l3.9 8.2h-7.8zM565 428.9l3.9 8.2h-7.8zM565.8 428.4l3.9 8.2h-7.8zM566.6 427.8l3.9 8.2h-7.8zM567.4 427.2l3.9 8.2h-7.8zM568.2 426.6l3.9 8.2h-7.8zM569 425.9l3.9 8.2h-7.8zM569.8 425.3l3.9 8.2h-7.8zM570.6 424.7l3.9 8.2h-7.8zM571.4 424.1l3.9 8.2h-7.8zM572.2 423.6l3.9 8.2h-7.8zM573 423.3l3.9 8.2h-7.8zM573.9 423l3.9 8.2h-7.8zM574.7 422.6l3.9 8.2h-7.8zM575.5 422.3l3.9 8.2h-7.8zM576.3 422l3.9 8.2h-7.8zM577.1 421.9l3.9 8.2h-7.8zM577.9 421.8l3.9 8.2h-7.8zM578.7 421.8l3.9 8.2h-7.8zM579.5 421.7l3.9 8.2h-7.8zM580.3 421.6l3.9 8.2h-7.8zM581.1 421.6l3.9 8.2h-7.8zM581.9 421.5l3.9 8.2h-7.8z" fill="#000000"/><polyline points="82,140 82.8,146.4 83.6,161 84.4,175 85.2,183.5 86,187.8 86.8,190.4 87.6,191.2 88.4,191.4 89.2,191.6 90,191.9 90.9,192.1 91.7,192.3 92.5,192.6 93.3,192.8 94.1,193 94.9,193.3 95.7,193.2 96.5,193 97.3,192.8 98.1,192.7 98.9,192.5 99.7,192.4 100.5,192.2 101.3,192 102.1,191.9 102.9,191.7 103.7,191.6 104.5,191.5 105.3,191.6 106.2,191.6 107,191.7 107.8,191.7 108.6,191.8 109.4,191.8 110.2,191.9 111,191.9 111.8,192 112.6,194.4 113.4,197.6 114.2,201.7 115,208.4 115.8,215.1 116.6,221.8 117.4,229.2 118.2,237.2 119,245.1 119.8,248.3 120.6,251.6 121.4,253.3 122.2,253.8 123.1,254.3 123.9,254.8 124.7,255.3 125.5,255.7 126.3,256 127.1,256.3 127.9,256.6 128.7,256.9 129.5,257 130.3,256.9 131.1,256.8 131.9,256.7 132.7,256.6 133.5,256.5 134.3,256.3 135.1,255.7 135.9,255 136.7,254.4 137.5,253.8 138.3,253.3 139.2,252.7 140,252.2 140.8,251.7 141.6,251.2 142.4,251.1 143.2,251 144,251 144.8,250.9 145.6,250.9 146.4,251.8 147.2,252.6 148,253.5 148.8,254.5 149.6,255.5 150.4,257.4 151.2,260.2 152,264.1 152.8,269.2 153.6,274.3 154.4,281.4 155.3,290.2 156.1,297.9 156.9,300.7 157.7,303.5 158.5,305.1 159.3,306.5 160.1,307.8 160.9,308.1 161.7,308.3 162.5,308.4 163.3,308.5 164.1,308.7 164.9,308.8 165.7,309 166.5,308.7 167.3,308.3 168.1,307.9 168.9,307.5 169.7,307.1 170.6,306.7 171.4,306.3 172.2,305.9 173,305.5 173.8,305.1 174.6,304.8 175.4,304.5 176.2,304.3 177,304 177.8,303.7 178.6,303.5 179.4,303.2 180.2,302.9 181,302.7 181.8,302.7 182.6,303.2 183.4,303.6 184.2,304.1 185,304.6 185.8,305.1 186.7,305.6 187.5,307.5 188.3,309.4 189.1,311.3 189.9,313.8 190.7,316.7 191.5,319.5 192.3,322.6 193.1,325.8 193.9,329.1 194.7,332.3 195.5,334.8 196.3,337.3 197.1,339.7 197.9,340.9 198.7,341.8 199.5,342.8 200.3,343.7 201.1,344.7 201.9,345.6 202.8,346.3 203.6,346.3 204.4,346.2 205.2,346.2 206,346.1 206.8,346.1 207.6,346.1 208.4,346 209.2,345.9 210,345.3 210.8,344.7 211.6,344.1 212.4,343.5 213.2,342.9 214,342.3 214.8,341.7 215.6,341.1 216.4,340.5 217.2,339.8 218,339.2 218.8,338.5 219.7,337.8 220.5,337.2 221.3,336.5 222.1,336.6 222.9,336.8 223.7,336.9 224.5,337.1 225.3,337.3 226.1,337.4 226.9,338 227.7,339.4 228.5,340.7 229.3,342.1 230.1,343.5 230.9,344.8 231.7,346.2 232.5,348.2 233.3,350.3 234.1,352.4 235,354.5 235.8,356.6 236.6,360.3 237.4,364.3 238.2,367.5 239,370.5 239.8,373.6 240.6,374.1 241.4,374.1 242.2,374.2 243,374.2 243.8,374.3 244.6,374.4 245.4,374.3 246.2,374 247,373.7 247.8,373.3 248.6,373 249.4,372.7 250.2,372.3 251.1,372 251.9,371.6 252.7,370.8 253.5,370 254.3,369.2 255.1,368.4 255.9,367.6 256.7,366.8 257.5,366 258.3,365.1 259.1,364.3 259.9,363.6 260.7,363.3 261.5,363 262.3,362.8 263.1,362.5 263.9,362.2 264.7,361.9 265.5,362 266.3,362.2 267.1,362.4 268,362.7 268.8,362.9 269.6,364 270.4,365.5 271.2,367 272,368.5 272.8,370 273.6,371.8 274.4,373.7 275.2,375.7 276,377.6 276.8,379.5 277.6,381.5 278.4,383.5 279.2,385.4 280,387.4 280.8,389.4 281.6,390.8 282.4,391.4 283.2,392.1 284.1,392.7 284.9,393.4 285.7,393.6 286.5,393.6 287.3,393.7 288.1,393.8 288.9,393.9 289.7,394 290.5,393.7 291.3,393.2 292.1,392.8 292.9,392.3 293.7,391.8 294.5,391.4 295.3,390.9 296.1,390.3 296.9,389.1 297.7,387.8 298.5,386.6 299.4,385.4 300.2,384.2 301,382.9 301.8,381.8 302.6,381.3 303.4,380.9 304.2,380.4 305,380 305.8,380.3 306.6,380.7 307.4,381 308.2,381.4 309,381.7 309.8,382.3 310.6,383.5 311.4,384.6 312.2,385.8 313,386.9 313.8,388 314.6,389.2 315.5,390.3 316.3,391.4 317.1,392.5 317.9,393.7 318.7,395.1 319.5,397.1 320.3,399.2 321.1,401.2 321.9,402.8 322.7,404.3 323.5,405.9 324.3,407.5 325.1,408.1 325.9,408.5 326.7,408.9 327.5,409.3 328.3,409.7 329.1,410.2 329.9,410.6 330.7,410.4 331.6,410.3 332.4,410.1 333.2,409.9 334,409.8 334.8,409.6 335.6,409.4 336.4,409 337.2,408.5 338,407.9 338.8,407.4 339.6,406.8 340.4,406.2 341.2,405.7 342,404.9 342.8,404 343.6,403.1 344.4,402.1 345.2,401.2 346,400.3 346.8,399.4 347.7,398.8 348.5,398.2 349.3,397.6 350.1,397.1 350.9,396.5 351.7,396 352.5,395.4 353.3,395.3 354.1,395.6 354.9,395.8 355.7,396.1 356.5,396.3 357.3,397.3 358.1,398.2 358.9,399.2 359.7,400.2 360.5,401.5 361.3,403 362.1,404.5 362.9,406 363.8,407.6 364.6,409.1 365.4,410.7 366.2,412.2 367,413.6 367.8,415 368.6,416.4 369.4,417.8 370.2,419.2 371,419.9 371.8,420.3 372.6,420.7 373.4,421.1 374.2,421.5 375,421.9 375.8,422.3 376.6,422.3 377.4,422.3 378.2,422.3 379,422.3 379.9,422.3 380.7,422.3 381.5,422.3 382.3,422.3 383.1,422 383.9,421.7 384.7,421.4 385.5,421.1 386.3,420.8 387.1,420.5 387.9,420.1 388.7,419.8 389.5,419.2 390.3,418.4 391.1,417.6 391.9,416.8 392.7,416 393.5,415.2 394.3,414.4 395.1,413.5 396,412.7 396.8,411.8 397.6,411 398.4,410.1 399.2,410 400,410 400.8,410 401.6,410 402.4,410.2 403.2,411.5 404,412.9 404.8,414.3 405.6,415.7 406.4,417.1 407.2,418.2 408,419.2 408.8,420.2 409.6,421.2 410.4,422.2 411.2,423.2 412.1,424.2 412.9,425.4 413.7,426.7 414.5,427.9 415.3,429.1 416.1,430.3 416.9,431.5 417.7,432.4 418.5,433 419.3,433.6 420.1,434.2 420.9,434.8 421.7,435.4 422.5,436 423.3,436.1 424.1,436.1 424.9,436.2 425.7,436.3 426.5,436.4 427.3,436.4 428.2,436.5 429,436.6 429.8,436.4 430.6,436.2 431.4,436 432.2,435.7 433,435.5 433.8,435.3 434.6,435 435.4,434.8 436.2,434.4 437,433.7 437.8,433.1 438.6,432.4 439.4,431.8 440.2,431.1 441,430.5 441.8,429.9 442.6,429 443.4,427.5 444.2,426.1 445.1,424.7 445.9,423.2 446.7,422.5 447.5,421.9 448.3,421.3 449.1,420.8 449.9,420.8 450.7,420.8 451.5,420.8 452.3,420.8 453.1,420.8 453.9,421 454.7,421.5 455.5,422 456.3,422.4 457.1,423 457.9,423.9 458.7,424.8 459.5,425.8 460.4,426.7 461.2,427.7 462,428.5 462.8,429.4 463.6,430.3 464.4,431.1 465.2,432 466,432.8 466.8,433.7 467.6,434.5 468.4,435.4 469.2,436.2 470,437 470.8,437.9 471.6,438.7 472.4,439.7 473.2,440.8 474,441.8 474.8,442.9 475.6,443.9 476.5,445 477.3,446 478.1,446.1 478.9,446.2 479.7,446.3 480.5,446.4 481.3,446.5 482.1,446.6 482.9,446.5 483.7,446.4 484.5,446.2 485.3,446 486.1,445.9 486.9,445.7 487.7,445.6 488.5,445.4 489.3,445.2 490.1,444.8 490.9,444.4 491.7,444 492.6,443.6 493.4,443.2 494.2,442.8 495,442.4 495.8,442 496.6,441.1 497.4,440.1 498.2,439.1 499,438.1 499.8,437.2 500.6,436.2 501.4,435.2 502.2,434.2 503,433.7 503.8,433.3 504.6,432.9 505.4,432.5 506.2,432.1 507,431.7 507.8,431.3 508.7,430.9 509.5,430.9 510.3,431.3 511.1,431.7 511.9,432.1 512.7,432.5 513.5,433.5 514.3,434.9 515.1,436.2 515.9,437.5 516.7,438.9 517.5,439.9 518.3,440.8 519.1,441.6 519.9,442.5 520.7,443.3 521.5,444.2 522.3,445 523.1,445.8 523.9,446.6 524.8,447.3 525.6,448.1 526.4,448.9 527.2,449.6 528,450.2 528.8,450.7 529.6,451.3 530.4,451.9 531.2,452.4 532,453 532.8,453 533.6,453 534.4,453 535.2,453 536,453 536.8,453 537.6,453 538.4,453 539.2,452.8 540,452.7 540.9,452.6 541.7,452.4 542.5,452.3 543.3,452.2 544.1,452 544.9,451.7 545.7,451.2 546.5,450.8 547.3,450.3 548.1,449.9 548.9,449.4 549.7,448.9 550.5,448.5 551.3,447.9 552.1,447.4 552.9,446.8 553.7,446.2 554.5,445.7 555.3,445.1 556.1,444.5 557,443.8 557.8,442.8 558.6,441.8 559.4,440.7 560.2,439.7 561,438.7 561.8,438.4 562.6,438 563.4,437.7 564.2,437.3 565,437 565.8,436.9 566.6,436.8 567.4,436.7 568.2,436.7 569,436.6 569.8,436.5 570.6,436.4 571.4,436.3 572.2,436.2" fill="none" stroke="#FF0000" stroke-width="3" stroke-linejoin="round" stroke-linecap="round"/><path d="M82 135.9l3.9 8.2h-7.8zM82.8 142.3l3.9 8.2h-7.8zM83.6 156.9l3.9 8.2h-7.8zM84.4 170.9l3.9 8.2h-7.8zM85.2 179.4l3.9 8.2h-7.8zM86 183.7l3.9 8.2h-7.8zM86.8 186.3l3.9 8.2h-7.8zM87.6 187.1l3.9 8.2h-7.8zM88.4 187.3l3.9 8.2h-7.8zM89.2 187.5l3.9 8.2h-7.8zM90 187.8l3.9 8.2h-7.8zM90.9 188l3.9 8.2h-7.8zM91.7 188.2l3.9 8.2h-7.8zM92.5 188.5l3.9 8.2h-7.8zM93.3 188.7l3.9 8.2h-7.8zM94.1 188.9l3.9 8.2h-7.8zM94.9 189.2l3.9 8.2h-7.8zM95.7 189.1l3.9 8.2h-7.8zM96.5 188.9l3.9 8.2h-7.8zM97.3 188.7l3.9 8.2h-7.8zM98.1 188.6l3.9 8.2h-7.8zM98.9 188.4l3.9 8.2h-7.8zM99.7 188.3l3.9 8.2h-7.8zM100.5 188.1l3.9 8.2h-7.8zM101.3 187.9l3.9 8.2h-7.8zM102.1 187.8l3.9 8.2h-7.8zM102.9 187.6l3.9 8.2h-7.8zM103.7 187.5l3.9 8.2h-7.8zM104.5 187.4l3.9 8.2h-7.8zM105.3 187.5l3.9 8.2h-7.8zM106.2 187.5l3.9 8.2h-7.8zM107 187.6l3.9 8.2h-7.8zM107.8 187.6l3.9 8.2h-7.8zM108.6 187.7l3.9 8.2h-7.8zM109.4 187.7l3.9 8.2h-7.8zM110.2 187.8l3.9 8.2h-7.8zM111 187.8l3.9 8.2h-7.8zM111.8 187.9l3.9 8.2h-7.8zM112.6 190.3l3.9 8.2h-7.8zM113.4 193.5l3.9 8.2h-7.8zM114.2 197.6l3.9 8.2h-7.8zM115 204.3l3.9 8.2h-7.8zM115.8 211l3.9 8.2h-7.8zM116.6 217.7l3.9 8.2h-7.8zM117.4 225.1l3.9 8.2h-7.8zM118.2 233.1l3.9 8.2h-7.8zM119 241l3.9 8.2h-7.8zM119.8 244.2l3.9 8.2h-7.8zM120.6 247.5l3.9 8.2h-7.8zM121.4 249.2l3.9 8.2h-7.8zM122.2 249.7l3.9 8.2h-7.8zM123.1 250.2l3.9 8.2h-7.8zM123.9 250.7l3.9 8.2h-7.8zM124.7 251.2l3.9 8.2h-7.8zM125.5 251.6l3.9 8.2h-7.8zM126.3 251.9l3.9 8.2h-7.8zM127.1 252.2l3.9 8.2h-7.8zM127.9 252.5l3.9 8.2h-7.8zM128.7 252.8l3.9 8.2h-7.8zM129.5 252.9l3.9 8.2h-7.8zM130.3 252.8l3.9 8.2h-7.8zM131.1 252.7l3.9 8.2h-7.8zM131.9 252.6l3.9 8.2h-7.8zM132.7 252.5l3.9 8.2h-7.8zM133.5 252.4l3.9 8.2h-7.8zM134.3 252.2l3.9 8.2h-7.8zM135.1 251.6l3.9 8.2h-7.8zM135.9 250.9l3.9 8.2h-7.8zM136.7 250.3l3.9 8.2h-7.8zM137.5 249.7l3.9 8.2h-7.8zM138.3 249.2l3.9 8.2h-7.8zM139.2 248.6l3.9 8.2h-7.8zM140 248.1l3.9 8.2h-7.8zM140.8 247.6l3.9 8.2h-7.8zM141.6 247.1l3.9 8.2h-7.8zM142.4 247l3.9 8.2h-7.8zM143.2 246.9l3.9 8.2h-7.8zM144 246.9l3.9 8.2h-7.8zM144.8 246.8l3.9 8.2h-7.8zM145.6 246.8l3.9 8.2h-7.8zM146.4 247.7l3.9 8.2h-7.8zM147.2 248.5l3.9 8.2h-7.8zM148 249.4l3.9 8.2h-7.8zM148.8 250.4l3.9 8.2h-7.8zM149.6 251.4l3.9 8.2h-7.8zM150.4 253.3l3.9 8.2h-7.8zM151.2 256.1l3.9 8.2h-7.8zM152 260l3.9 8.2h-7.8zM152.8 265.1l3.9 8.2h-7.8zM153.6 270.2l3.9 8.2h-7.8zM154.4 277.3l3.9 8.2h-7.8zM155.3 286.1l3.9 8.2h-7.8zM156.1 293.8l3.9 8.2h-7.8zM156.9 296.6l3.9 8.2h-7.8zM157.7 299.4l3.9 8.2h-7.8zM158.5 301l3.9 8.2h-7.8zM159.3 302.4l3.9 8.2h-7.8zM160.1 303.7l3.9 8.2h-7.8zM160.9 304l3.9 8.2h-7.8zM161.7 304.2l3.9 8.2h-7.8zM162.5 304.3l3.9 8.2h-7.8zM163.3 304.4l3.9 8.2h-7.8zM164.1 304.6l3.9 8.2h-7.8zM164.9 304.7l3.9 8.2h-7.8zM165.7 304.9l3.9 8.2h-7.8zM166.5 304.6l3.9 8.2h-7.8zM167.3 304.2l3.9 8.2h-7.8zM168.1 303.8l3.9 8.2h-7.8zM168.9 303.4l3.9 8.2h-7.8zM169.7 303l3.9 8.2h-7.8zM170.6 302.6l3.9 8.2h-7.8zM171.4 302.2l3.9 8.2h-7.8zM172.2 301.8l3.9 8.2h-7.8zM173 301.4l3.9 8.2h-7.8zM173.8 301l3.9 8.2h-7.8zM174.6 300.7l3.9 8.2h-7.8zM175.4 300.4l3.9 8.2h-7.8zM176.2 300.2l3.9 8.2h-7.8zM177 299.9l3.9 8.2h-7.8zM177.8 299.6l3.9 8.2h-7.8zM178.6 299.4l3.9 8.2h-7.8zM179.4 299.1l3.9 8.2h-7.8zM180.2 298.8l3.9 8.2h-7.8zM181 298.6l3.9 8.2h-7.8zM181.8 298.6l3.9 8.2h-7.8zM182.6 299.1l3.9 8.2h-7.8zM183.4 299.5l3.9 8.2h-7.8zM184.2 300l3.9 8.2h-7.8zM185 300.5l3.9 8.2h-7.8zM185.8 301l3.9 8.2h-7.8zM186.7 301.5l3.9 8.2h-7.8zM187.5 303.4l3.9 8.2h-7.8zM188.3 305.3l3.9 8.2h-7.8zM189.1 307.2l3.9 8.2h-7.8zM189.9 309.7l3.9 8.2h-7.8zM190.7 312.6l3.9 8.2h-7.8zM191.5 315.4l3.9 8.2h-7.8zM192.3 318.5l3.9 8.2h-7.8zM193.1 321.7l3.9 8.2h-7.8zM193.9 325l3.9 8.2h-7.8zM194.7 328.2l3.9 8.2h-7.8zM195.5 330.7l3.9 8.2h-7.8zM196.3 333.2l3.9 8.2h-7.8zM197.1 335.6l3.9 8.2h-7.8zM197.9 336.8l3.9 8.2h-7.8zM198.7 337.7l3.9 8.2h-7.8zM199.5 338.7l3.9 8.2h-7.8zM200.3 339.6l3.9 8.2h-7.8zM201.1 340.6l3.9 8.2h-7.8zM201.9 341.5l3.9 8.2h-7.8zM202.8 342.2l3.9 8.2h-7.8zM203.6 342.2l3.9 8.2h-7.8zM204.4 342.1l3.9 8.2h-7.8zM205.2 342.1l3.9 8.2h-7.8zM206 342l3.9 8.2h-7.8zM206.8 342l3.9 8.2h-7.8zM207.6 342l3.9 8.2h-7.8zM208.4 341.9l3.9 8.2h-7.8zM209.2 341.8l3.9 8.2h-7.8zM210 341.2l3.9 8.2h-7.8zM210.8 340.6l3.9 8.2h-7.8zM211.6 340l3.9 8.2h-7.8zM212.4 339.4l3.9 8.2h-7.8zM213.2 338.8l3.9 8.2h-7.8zM214 338.2l3.9 8.2h-7.8zM214.8 337.6l3.9 8.2h-7.8zM215.6 337l3.9 8.2h-7.8zM216.4 336.4l3.9 8.2h-7.8zM217.2 335.7l3.9 8.2h-7.8zM218 335.1l3.9 8.2h-7.8zM218.8 334.4l3.9 8.2h-7.8zM219.7 333.7l3.9 8.2h-7.8zM220.5 333.1l3.9 8.2h-7.8zM221.3 332.4l3.9 8.2h-7.8zM222.1 332.5l3.9 8.2h-7.8zM222.9 332.7l3.9 8.2h-7.8zM223.7 332.8l3.9 8.2h-7.8zM224.5 333l3.9 8.2h-7.8zM225.3 333.2l3.9 8.2h-7.8zM226.1 333.3l3.9 8.2h-7.8zM226.9 333.9l3.9 8.2h-7.8zM227.7 335.3l3.9 8.2h-7.8zM228.5 336.6l3.9 8.2h-7.8zM229.3 338l3.9 8.2h-7.8zM230.1 339.4l3.9 8.2h-7.8zM230.9 340.7l3.9 8.2h-7.8zM231.7 342.1l3.9 8.2h-7.8zM232.5 344.1l3.9 8.2h-7.8zM233.3 346.2l3.9 8.2h-7.8zM234.1 348.3l3.9 8.2h-7.8zM235 350.4l3.9 8.2h-7.8zM235.8 352.5l3.9 8.2h-7.8zM236.6 356.2l3.9 8.2h-7.8zM237.4 360.2l3.9 8.2h-7.8zM238.2 363.4l3.9 8.2h-7.8zM239 366.4l3.9 8.2h-7.8zM239.8 369.4l3.9 8.2h-7.8zM240.6 370l3.9 8.2h-7.8zM241.4 370l3.9 8.2h-7.8zM242.2 370.1l3.9 8.2h-7.8zM243 370.1l3.9 8.2h-7.8zM243.8 370.2l3.9 8.2h-7.8zM244.6 370.3l3.9 8.2h-7.8zM245.4 370.2l3.9 8.2h-7.8zM246.2 369.9l3.9 8.2h-7.8zM247 369.6l3.9 8.2h-7.8zM247.8 369.2l3.9 8.2h-7.8zM248.6 368.9l3.9 8.2h-7.8zM249.4 368.6l3.9 8.2h-7.8zM250.2 368.2l3.9 8.2h-7.8zM251.1 367.9l3.9 8.2h-7.8zM251.9 367.5l3.9 8.2h-7.8zM252.7 366.7l3.9 8.2h-7.8zM253.5 365.9l3.9 8.2h-7.8zM254.3 365.1l3.9 8.2h-7.8zM255.1 364.3l3.9 8.2h-7.8zM255.9 363.5l3.9 8.2h-7.8zM256.7 362.7l3.9 8.2h-7.8zM257.5 361.9l3.9 8.2h-7.8zM258.3 361l3.9 8.2h-7.8zM259.1 360.2l3.9 8.2h-7.8zM259.9 359.5l3.9 8.2h-7.8zM260.7 359.2l3.9 8.2h-7.8zM261.5 358.9l3.9 8.2h-7.8zM262.3 358.7l3.9 8.2h-7.8zM263.1 358.4l3.9 8.2h-7.8zM263.9 358.1l3.9 8.2h-7.8zM264.7 357.8l3.9 8.2h-7.8zM265.5 357.9l3.9 8.2h-7.8zM266.3 358.1l3.9 8.2h-7.8zM267.1 358.3l3.9 8.2h-7.8zM268 358.6l3.9 8.2h-7.8zM268.8 358.8l3.9 8.2h-7.8zM269.6 359.9l3.9 8.2h-7.8zM270.4 361.4l3.9 8.2h-7.8zM271.2 362.9l3.9 8.2h-7.8zM272 364.4l3.9 8.2h-7.8zM272.8 365.9l3.9 8.2h-7.8zM273.6 367.7l3.9 8.2h-7.8zM274.4 369.6l3.9 8.2h-7.8zM275.2 371.6l3.9 8.2h-7.8zM276 373.5l3.9 8.2h-7.8zM276.8 375.4l3.9 8.2h-7.8zM277.6 377.4l3.9 8.2h-7.8zM278.4 379.4l3.9 8.2h-7.8zM279.2 381.3l3.9 8.2h-7.8zM280 383.3l3.9 8.2h-7.8zM280.8 385.3l3.9 8.2h-7.8zM281.6 386.7l3.9 8.2h-7.8zM282.4 387.3l3.9 8.2h-7.8zM283.2 388l3.9 8.2h-7.8zM284.1 388.6l3.9 8.2h-7.8zM284.9 389.3l3.9 8.2h-7.8zM285.7 389.5l3.9 8.2h-7.8zM286.5 389.5l3.9 8.2h-7.8zM287.3 389.6l3.9 8.2h-7.8zM288.1 389.7l3.9 8.2h-7.8zM288.9 389.8l3.9 8.2h-7.8zM289.7 389.9l3.9 8.2h-7.8zM290.5 389.6l3.9 8.2h-7.8zM291.3 389.1l3.9 8.2h-7.8zM292.1 388.7l3.9 8.2h-7.8zM292.9 388.2l3.9 8.2h-7.8zM293.7 387.7l3.9 8.2h-7.8zM294.5 387.3l3.9 8.2h-7.8zM295.3 386.8l3.9 8.2h-7.8zM296.1 386.2l3.9 8.2h-7.8zM296.9 385l3.9 8.2h-7.8zM297.7 383.7l3.9 8.2h-7.8zM298.5 382.5l3.9 8.2h-7.8zM299.4 381.3l3.9 8.2h-7.8zM300.2 380.1l3.9 8.2h-7.8zM301 378.8l3.9 8.2h-7.8zM301.8 377.7l3.9 8.2h-7.8zM302.6 377.2l3.9 8.2h-7.8zM303.4 376.8l3.9 8.2h-7.8zM304.2 376.3l3.9 8.2h-7.8zM305 375.9l3.9 8.2h-7.8zM305.8 376.2l3.9 8.2h-7.8zM306.6 376.6l3.9 8.2h-7.8zM307.4 376.9l3.9 8.2h-7.8zM308.2 377.3l3.9 8.2h-7.8zM309 377.6l3.9 8.2h-7.8zM309.8 378.2l3.9 8.2h-7.8zM310.6 379.4l3.9 8.2h-7.8zM311.4 380.5l3.9 8.2h-7.8zM312.2 381.7l3.9 8.2h-7.8zM313 382.8l3.9 8.2h-7.8zM313.8 383.9l3.9 8.2h-7.8zM314.6 385.1l3.9 8.2h-7.8zM315.5 386.2l3.9 8.2h-7.8zM316.3 387.3l3.9 8.2h-7.8zM317.1 388.4l3.9 8.2h-7.8zM317.9 389.6l3.9 8.2h-7.8zM318.7 391l3.9 8.2h-7.8zM319.5 393l3.9 8.2h-7.8zM320.3 395.1l3.9 8.2h-7.8zM321.1 397.1l3.9 8.2h-7.8zM321.9 398.7l3.9 8.2h-7.8zM322.7 400.2l3.9 8.2h-7.8zM323.5 401.8l3.9 8.2h-7.8zM324.3 403.4l3.9 8.2h-7.8zM325.1 404l3.9 8.2h-7.8zM325.9 404.4l3.9 8.2h-7.8zM326.7 404.8l3.9 8.2h-7.8zM327.5 405.2l3.9 8.2h-7.8zM328.3 405.6l3.9 8.2h-7.8zM329.1 406.1l3.9 8.2h-7.8zM329.9 406.5l3.9 8.2h-7.8zM330.7 406.3l3.9 8.2h-7.8zM331.6 406.2l3.9 8.2h-7.8zM332.4 406l3.9 8.2h-7.8zM333.2 405.8l3.9 8.2h-7.8zM334 405.7l3.9 8.2h-7.8zM334.8 405.5l3.9 8.2h-7.8zM335.6 405.3l3.9 8.2h-7.8zM336.4 404.9l3.9 8.2h-7.8zM337.2 404.4l3.9 8.2h-7.8zM338 403.8l3.9 8.2h-7.8zM338.8 403.3l3.9 8.2h-7.8zM339.6 402.7l3.9 8.2h-7.8zM340.4 402.1l3.9 8.2h-7.8zM341.2 401.6l3.9 8.2h-7.8zM342 400.8l3.9 8.2h-7.8zM342.8 399.9l3.9 8.2h-7.8zM343.6 399l3.9 8.2h-7.8zM344.4 398l3.9 8.2h-7.8zM345.2 397.1l3.9 8.2h-7.8zM346 396.2l3.9 8.2h-7.8zM346.8 395.3l3.9 8.2h-7.8zM347.7 394.7l3.9 8.2h-7.8zM348.5 394.1l3.9 8.2h-7.8zM349.3 393.5l3.9 8.2h-7.8zM350.1 393l3.9 8.2h-7.8zM350.9 392.4l3.9 8.2h-7.8zM351.7 391.9l3.9 8.2h-7.8zM352.5 391.3l3.9 8.2h-7.8zM353.3 391.2l3.9 8.2h-7.8zM354.1 391.5l3.9 8.2h-7.8zM354.9 391.7l3.9 8.2h-7.8zM355.7 392l3.9 8.2h-7.8zM356.5 392.2l3.9 8.2h-7.8zM357.3 393.2l3.9 8.2h-7.8zM358.1 394.1l3.9 8.2h-7.8zM358.9 395.1l3.9 8.2h-7.8zM359.7 396.1l3.9 8.2h-7.8zM360.5 397.4l3.9 8.2h-7.8zM361.3 398.9l3.9 8.2h-7.8zM362.1 400.4l3.9 8.2h-7.8zM362.9 401.9l3.9 8.2h-7.8zM363.8 403.5l3.9 8.2h-7.8zM364.6 405l3.9 8.2h-7.8zM365.4 406.6l3.9 8.2h-7.8zM366.2 408.1l3.9 8.2h-7.8zM367 409.5l3.9 8.2h-7.8zM367.8 410.9l3.9 8.2h-7.8zM368.6 412.3l3.9 8.2h-7.8zM369.4 413.7l3.9 8.2h-7.8zM370.2 415.1l3.9 8.2h-7.8zM371 415.8l3.9 8.2h-7.8zM371.8 416.2l3.9 8.2h-7.8zM372.6 416.6l3.9 8.2h-7.8zM373.4 417l3.9 8.2h-7.8zM374.2 417.4l3.9 8.2h-7.8zM375 417.8l3.9 8.2h-7.8zM375.8 418.2l3.9 8.2h-7.8zM376.6 418.2l3.9 8.2h-7.8zM377.4 418.2l3.9 8.2h-7.8zM378.2 418.2l3.9 8.2h-7.8zM379 418.2l3.9 8.2h-7.8zM379.9 418.2l3.9 8.2h-7.8zM380.7 418.2l3.9 8.2h-7.8zM381.5 418.2l3.9 8.2h-7.8zM382.3 418.2l3.9 8.2h-7.8zM383.1 417.9l3.9 8.2h-7.8zM383.9 417.6l3.9 8.2h-7.8zM384.7 417.3l3.9 8.2h-7.8zM385.5 417l3.9 8.2h-7.8zM386.3 416.7l3.9 8.2h-7.8zM387.1 416.4l3.9 8.2h-7.8zM387.9 416l3.9 8.2h-7.8zM388.7 415.7l3.9 8.2h-7.8zM389.5 415.1l3.9 8.2h-7.8zM390.3 414.3l3.9 8.2h-7.8zM391.1 413.5l3.9 8.2h-7.8zM391.9 412.7l3.9 8.2h-7.8zM392.7 411.9l3.9 8.2h-7.8zM393.5 411.1l3.9 8.2h-7.8zM394.3 410.3l3.9 8.2h-7.8zM395.1 409.4l3.9 8.2h-7.8zM396 408.6l3.9 8.2h-7.8zM396.8 407.7l3.9 8.2h-7.8zM397.6 406.9l3.9 8.2h-7.8zM398.4 406l3.9 8.2h-7.8zM399.2 405.9l3.9 8.2h-7.8zM400 405.9l3.9 8.2h-7.8zM400.8 405.9l3.9 8.2h-7.8zM401.6 405.9l3.9 8.2h-7.8zM402.4 406.1l3.9 8.2h-7.8zM403.2 407.4l3.9 8.2h-7.8zM404 408.8l3.9 8.2h-7.8zM404.8 410.2l3.9 8.2h-7.8zM405.6 411.6l3.9 8.2h-7.8zM406.4 413l3.9 8.2h-7.8zM407.2 414.1l3.9 8.2h-7.8zM408 415.1l3.9 8.2h-7.8zM408.8 416.1l3.9 8.2h-7.8zM409.6 417.1l3.9 8.2h-7.8zM410.4 418.1l3.9 8.2h-7.8zM411.2 419.1l3.9 8.2h-7.8zM412.1 420.1l3.9 8.2h-7.8zM412.9 421.3l3.9 8.2h-7.8zM413.7 422.6l3.9 8.2h-7.8zM414.5 423.8l3.9 8.2h-7.8zM415.3 425l3.9 8.2h-7.8zM416.1 426.2l3.9 8.2h-7.8zM416.9 427.4l3.9 8.2h-7.8zM417.7 428.3l3.9 8.2h-7.8zM418.5 428.9l3.9 8.2h-7.8zM419.3 429.5l3.9 8.2h-7.8zM420.1 430.1l3.9 8.2h-7.8zM420.9 430.7l3.9 8.2h-7.8zM421.7 431.3l3.9 8.2h-7.8zM422.5 431.9l3.9 8.2h-7.8zM423.3 432l3.9 8.2h-7.8zM424.1 432l3.9 8.2h-7.8zM424.9 432.1l3.9 8.2h-7.8zM425.7 432.2l3.9 8.2h-7.8zM426.5 432.3l3.9 8.2h-7.8zM427.3 432.3l3.9 8.2h-7.8zM428.2 432.4l3.9 8.2h-7.8zM429 432.5l3.9 8.2h-7.8zM429.8 432.3l3.9 8.2h-7.8zM430.6 432.1l3.9 8.2h-7.8zM431.4 431.9l3.9 8.2h-7.8zM432.2 431.6l3.9 8.2h-7.8zM433 431.4l3.9 8.2h-7.8zM433.8 431.2l3.9 8.2h-7.8zM434.6 430.9l3.9 8.2h-7.8zM435.4 430.7l3.9 8.2h-7.8zM436.2 430.3l3.9 8.2h-7.8zM437 429.6l3.9 8.2h-7.8zM437.8 429l3.9 8.2h-7.8zM438.6 428.3l3.9 8.2h-7.8zM439.4 427.7l3.9 8.2h-7.8zM440.2 427l3.9 8.2h-7.8zM441 426.4l3.9 8.2h-7.8zM441.8 425.8l3.9 8.2h-7.8zM442.6 424.9l3.9 8.2h-7.8zM443.4 423.4l3.9 8.2h-7.8zM444.2 422l3.9 8.2h-7.8zM445.1 420.6l3.9 8.2h-7.8zM445.9 419.1l3.9 8.2h-7.8zM446.7 418.4l3.9 8.2h-7.8zM447.5 417.8l3.9 8.2h-7.8zM448.3 417.2l3.9 8.2h-7.8zM449.1 416.7l3.9 8.2h-7.8zM449.9 416.7l3.9 8.2h-7.8zM450.7 416.7l3.9 8.2h-7.8zM451.5 416.7l3.9 8.2h-7.8zM452.3 416.7l3.9 8.2h-7.8zM453.1 416.7l3.9 8.2h-7.8zM453.9 416.9l3.9 8.2h-7.8zM454.7 417.4l3.9 8.2h-7.8zM455.5 417.9l3.9 8.2h-7.8zM456.3 418.3l3.9 8.2h-7.8zM457.1 418.9l3.9 8.2h-7.8zM457.9 419.8l3.9 8.2h-7.8zM458.7 420.7l3.9 8.2h-7.8zM459.5 421.7l3.9 8.2h-7.8zM460.4 422.6l3.9 8.2h-7.8zM461.2 423.6l3.9 8.2h-7.8zM462 424.4l3.9 8.2h-7.8zM462.8 425.3l3.9 8.2h-7.8zM463.6 426.2l3.9 8.2h-7.8zM464.4 427l3.9 8.2h-7.8zM465.2 427.9l3.9 8.2h-7.8zM466 428.7l3.9 8.2h-7.8zM466.8 429.6l3.9 8.2h-7.8zM467.6 430.4l3.9 8.2h-7.8zM468.4 431.3l3.9 8.2h-7.8zM469.2 432.1l3.9 8.2h-7.8zM470 432.9l3.9 8.2h-7.8zM470.8 433.8l3.9 8.2h-7.8zM471.6 434.6l3.9 8.2h-7.8zM472.4 435.6l3.9 8.2h-7.8zM473.2 436.7l3.9 8.2h-7.8zM474 437.7l3.9 8.2h-7.8zM474.8 438.8l3.9 8.2h-7.8zM475.6 439.8l3.9 8.2h-7.8zM476.5 440.9l3.9 8.2h-7.8zM477.3 441.9l3.9 8.2h-7.8zM478.1 442l3.9 8.2h-7.8zM478.9 442.1l3.9 8.2h-7.8zM479.7 442.2l3.9 8.2h-7.8zM480.5 442.3l3.9 8.2h-7.8zM481.3 442.4l3.9 8.2h-7.8zM482.1 442.5l3.9 8.2h-7.8zM482.9 442.4l3.9 8.2h-7.8zM483.7 442.3l3.9 8.2h-7.8zM484.5 442.1l3.9 8.2h-7.8zM485.3 441.9l3.9 8.2h-7.8zM486.1 441.8l3.9 8.2h-7.8zM486.9 441.6l3.9 8.2h-7.8zM487.7 441.5l3.9 8.2h-7.8zM488.5 441.3l3.9 8.2h-7.8zM489.3 441.1l3.9 8.2h-7.8zM490.1 440.7l3.9 8.2h-7.8zM490.9 440.3l3.9 8.2h-7.8zM491.7 439.9l3.9 8.2h-7.8zM492.6 439.5l3.9 8.2h-7.8zM493.4 439.1l3.9 8.2h-7.8zM494.2 438.7l3.9 8.2h-7.8zM495 438.3l3.9 8.2h-7.8zM495.8 437.9l3.9 8.2h-7.8zM496.6 437l3.9 8.2h-7.8zM497.4 436l3.9 8.2h-7.8zM498.2 435l3.9 8.2h-7.8zM499 434l3.9 8.2h-7.8zM499.8 433.1l3.9 8.2h-7.8zM500.6 432.1l3.9 8.2h-7.8zM501.4 431.1l3.9 8.2h-7.8zM502.2 430.1l3.9 8.2h-7.8zM503 429.6l3.9 8.2h-7.8zM503.8 429.2l3.9 8.2h-7.8zM504.6 428.8l3.9 8.2h-7.8zM505.4 428.4l3.9 8.2h-7.8zM506.2 428l3.9 8.2h-7.8zM507 427.6l3.9 8.2h-7.8zM507.8 427.2l3.9 8.2h-7.8zM508.7 426.8l3.9 8.2h-7.8zM509.5 426.8l3.9 8.2h-7.8zM510.3 427.2l3.9 8.2h-7.8zM511.1 427.6l3.9 8.2h-7.8zM511.9 428l3.9 8.2h-7.8zM512.7 428.4l3.9 8.2h-7.8zM513.5 429.4l3.9 8.2h-7.8zM514.3 430.8l3.9 8.2h-7.8zM515.1 432.1l3.9 8.2h-7.8zM515.9 433.4l3.9 8.2h-7.8zM516.7 434.8l3.9 8.2h-7.8zM517.5 435.8l3.9 8.2h-7.8zM518.3 436.7l3.9 8.2h-7.8zM519.1 437.5l3.9 8.2h-7.8zM519.9 438.4l3.9 8.2h-7.8zM520.7 439.2l3.9 8.2h-7.8zM521.5 440.1l3.9 8.2h-7.8zM522.3 440.9l3.9 8.2h-7.8zM523.1 441.7l3.9 8.2h-7.8zM523.9 442.5l3.9 8.2h-7.8zM524.8 443.2l3.9 8.2h-7.8zM525.6 444l3.9 8.2h-7.8zM526.4 444.8l3.9 8.2h-7.8zM527.2 445.5l3.9 8.2h-7.8zM528 446.1l3.9 8.2h-7.8zM528.8 446.6l3.9 8.2h-7.8zM529.6 447.2l3.9 8.2h-7.8zM530.4 447.8l3.9 8.2h-7.8zM531.2 448.3l3.9 8.2h-7.8zM532 448.9l3.9 8.2h-7.8zM532.8 448.9l3.9 8.2h-7.8zM533.6 448.9l3.9 8.2h-7.8zM534.4 448.9l3.9 8.2h-7.8zM535.2 448.9l3.9 8.2h-7.8zM536 448.9l3.9 8.2h-7.8zM536.8 448.9l3.9 8.2h-7.8zM537.6 448.9l3.9 8.2h-7.8zM538.4 448.9l3.9 8.2h-7.8zM539.2 448.7l3.9 8.2h-7.8zM540 448.6l3.9 8.2h-7.8zM540.9 448.5l3.9 8.2h-7.8zM541.7 448.3l3.9 8.2h-7.8zM542.5 448.2l3.9 8.2h-7.8zM543.3 448.1l3.9 8.2h-7.8zM544.1 447.9l3.9 8.2h-7.8zM544.9 447.6l3.9 8.2h-7.8zM545.7 447.1l3.9 8.2h-7.8zM546.5 446.7l3.9 8.2h-7.8zM547.3 446.2l3.9 8.2h-7.8zM548.1 445.8l3.9 8.2h-7.8zM548.9 445.3l3.9 8.2h-7.8zM549.7 444.8l3.9 8.2h-7.8zM550.5 444.4l3.9 8.2h-7.8zM551.3 443.8l3.9 8.2h-7.8zM552.1 443.3l3.9 8.2h-7.8zM552.9 442.7l3.9 8.2h-7.8zM553.7 442.1l3.9 8.2h-7.8zM554.5 441.6l3.9 8.2h-7.8zM555.3 441l3.9 8.2h-7.8zM556.1 440.4l3.9 8.2h-7.8zM557 439.7l3.9 8.2h-7.8zM557.8 438.7l3.9 8.2h-7.8zM558.6 437.7l3.9 8.2h-7.8zM559.4 436.6l3.9 8.2h-7.8zM560.2 435.6l3.9 8.2h-7.8zM561 434.6l3.9 8.2h-7.8zM561.8 434.3l3.9 8.2h-7.8zM562.6 433.9l3.9 8.2h-7.8zM563.4 433.6l3.9 8.2h-7.8zM564.2 433.2l3.9 8.2h-7.8zM565 432.9l3.9 8.2h-7.8zM565.8 432.8l3.9 8.2h-7.8zM566.6 432.7l3.9 8.2h-7.8zM567.4 432.6l3.9 8.2h-7.8zM568.2 432.6l3.9 8.2h-7.8zM569 432.5l3.9 8.2h-7.8zM569.8 432.4l3.9 8.2h-7.8zM570.6 432.3l3.9 8.2h-7.8zM571.4 432.2l3.9 8.2h-7.8zM572.2 432.1l3.9 8.2h-7.8z" fill="#FF0000"/><polyline points="82.5,206 83.3,214.9 84.1,229.4 84.9,241 85.7,248.5 86.5,253 87.3,254.3 88.1,255.6 88.9,256.8 89.7,258.1 90.5,258.5 91.4,258.6 92.2,258.6 93,258.6 93.8,258.7 94.6,258.7 95.4,258.8 96.2,258.8 97,258.8 97.8,258.9 98.6,258.9 99.4,259 100.2,259 101,258.8 101.8,258.7 102.6,258.6 103.4,258.4 104.2,258.3 105,258.2 105.8,258 106.7,258.1 107.5,258.1 108.3,258.2 109.1,258.3 109.9,258.3 110.7,258.4 111.5,258.5 112.3,261.2 113.1,265.2 113.9,269.5 114.7,273.8 115.5,278.1 116.3,282.6 117.1,288.1 117.9,291.5 118.7,293.7 119.5,294.5 120.3,294.6 121.1,294.7 121.9,294.7 122.8,294.8 123.6,294.9 124.4,294.9 125.2,295 126,295 126.8,294.9 127.6,294.9 128.4,294.9 129.2,294.8 130,294.8 130.8,293.7 131.6,292.7 132.4,291.6 133.2,291.2 134,290.8 134.8,290.4 135.6,290.3 136.4,290.3 137.2,290.3 138,290.3 138.8,290.3 139.7,290.3 140.5,290.3 141.3,290.5 142.1,290.9 142.9,291.4 143.7,291.9 144.5,292.3 145.3,294.5 146.1,297.7 146.9,301 147.7,304.8 148.5,308.6 149.3,310.5 150.1,312.2 150.9,313.8 151.7,314.4 152.5,314.8 153.3,315.2 154.1,315.6 154.9,316 155.8,316.4 156.6,316.6 157.4,316.7 158.2,316.9 159,317 159.8,317.1 160.6,317.3 161.4,317.4 162.2,317.4 163,317.1 163.8,316.8 164.6,316.4 165.4,316.1 166.2,315.7 167,315.4 167.8,315.2 168.6,315 169.4,314.8 170.2,314.6 171.1,314.3 171.9,314.1 172.7,313.9 173.5,313.7 174.3,313.5 175.1,313.9 175.9,314.3 176.7,314.7 177.5,315.2 178.3,315.6 179.1,316 179.9,316.4 180.7,318.1 181.5,319.9 182.3,321.8 183.1,324.2 183.9,327 184.7,329.8 185.5,332.3 186.3,334.3 187.2,336.2 188,338.2 188.8,339.2 189.6,340.2 190.4,341.2 191.2,342.1 192,343 192.8,342.8 193.6,342.6 194.4,342.3 195.2,342.1 196,341.9 196.8,341.7 197.6,341.3 198.4,340.7 199.2,340.1 200,339.5 200.8,338.9 201.6,338.3 202.4,337.7 203.2,336.9 204.1,336.1 204.9,335.3 205.7,334.5 206.5,333.7 207.3,333.7 208.1,333.7 208.9,333.7 209.7,333.7 210.5,333.7 211.3,334.1 212.1,334.5 212.9,334.9 213.7,335.3 214.5,335.9 215.3,337.1 216.1,338.3 216.9,339.4 217.7,340.6 218.5,341.9 219.3,343.9 220.2,345.8 221,347.7 221.8,349.2 222.6,350.5 223.4,351.8 224.2,353.1 225,354.4 225.8,355.7 226.6,357 227.4,357.3 228.2,357.7 229,358 229.8,358.4 230.6,358.7 231.4,359 232.2,359.4 233,359.7 233.8,359.7 234.6,359.5 235.5,359.3 236.3,359.2 237.1,359 237.9,358.8 238.7,358.7 239.5,358.5 240.3,358.1 241.1,357.4 241.9,356.8 242.7,356.2 243.5,355.5 244.3,354.9 245.1,354.2 245.9,353.6 246.7,353 247.5,352.6 248.3,352.2 249.1,351.8 249.9,351.4 250.7,351.1 251.6,350.7 252.4,350.3 253.2,349.9 254,349.5 254.8,350.1 255.6,350.8 256.4,351.4 257.2,352 258,352.7 258.8,353.6 259.6,354.8 260.4,356 261.2,357.2 262,358.5 262.8,359.7 263.6,360.9 264.4,362.7 265.2,364.6 266,366.6 266.8,368.5 267.6,370.4 268.5,371.2 269.3,372 270.1,372.8 270.9,373.6 271.7,374.4 272.5,375.2 273.3,375.7 274.1,375.7 274.9,375.7 275.7,375.7 276.5,375.7 277.3,375.7 278.1,375.7 278.9,375.7 279.7,375.6 280.5,375.1 281.3,374.6 282.1,374.1 282.9,373.6 283.8,373.2 284.6,372.5 285.4,371.8 286.2,371.2 287,370.5 287.8,369.8 288.6,369.1 289.4,368.5 290.2,368.2 291,367.9 291.8,367.6 292.6,367.3 293.4,366.9 294.2,366.6 295,366.5 295.8,366.5 296.6,366.5 297.4,366.5 298.2,366.5 299,366.5 299.9,366.5 300.7,366.9 301.5,367.3 302.3,367.7 303.1,368.2 303.9,368.7 304.7,369.7 305.5,370.6 306.3,371.6 307.1,372.5 307.9,373.5 308.7,374.6 309.5,375.7 310.3,376.8 311.1,377.9 311.9,379.3 312.7,380.8 313.5,382.3 314.3,383.8 315.1,385.2 316,386.1 316.8,387 317.6,387.9 318.4,388.9 319.2,389.8 320,390.5 320.8,390.6 321.6,390.8 322.4,390.9 323.2,391 324,391.1 324.8,391.3 325.6,391.4 326.4,391.5 327.2,391.2 328,390.9 328.8,390.6 329.6,390.3 330.4,390 331.2,389.7 332.1,389.4 332.9,389.1 333.7,388.5 334.5,387.8 335.3,387.2 336.1,386.5 336.9,385.9 337.7,385.2 338.5,384.6 339.3,383.9 340.1,383.5 340.9,383.2 341.7,382.9 342.5,382.7 343.3,382.4 344.1,382.1 344.9,381.8 345.7,381.5 346.5,381.2 347.3,381.6 348.2,382 349,382.4 349.8,382.8 350.6,383.2 351.4,383.6 352.2,383.8 353,384.6 353.8,385.4 354.6,386.2 355.4,387 356.2,387.9 357,388.8 357.8,389.7 358.6,390.6 359.4,391.5 360.2,392.6 361,393.9 361.8,395.2 362.6,396.5 363.4,397.8 364.2,399.1 365.1,400.4 365.9,401.8 366.7,403.1 367.5,404.5 368.3,404.9 369.1,404.9 369.9,404.8 370.7,404.7 371.5,404.6 372.3,404.5 373.1,404.4 373.9,404.2 374.7,404 375.5,403.8 376.3,403.6 377.1,403.4 377.9,403.2 378.7,402.8 379.5,402.2 380.4,401.6 381.2,401 382,400.4 382.8,399.8 383.6,399.2 384.4,398.6 385.2,398 386,397.4 386.8,396.8 387.6,396.2 388.4,395.6 389.2,395.1 390,395.1 390.8,395.1 391.6,395.1 392.4,395.1 393.2,395.1 394,395.1 394.8,395.5 395.6,396.2 396.5,396.9 397.3,397.6 398.1,398.2 398.9,398.9 399.7,399.6 400.5,400.6 401.3,401.6 402.1,402.7 402.9,403.7 403.7,404.7 404.5,405.7 405.3,406.7 406.1,407.8 406.9,408.9 407.7,410.1 408.5,411.2 409.3,412.4 410.1,413.5 410.9,414.7 411.7,415.9 412.6,416.2 413.4,416.3 414.2,416.4 415,416.5 415.8,416.6 416.6,416.7 417.4,416.8 418.2,416.8 419,416.8 419.8,416.8 420.6,416.8 421.4,416.8 422.2,416.8 423,416.6 423.8,416.3 424.6,416 425.4,415.7 426.2,415.4 427,415.1 427.8,414.8 428.7,414.1 429.5,413.5 430.3,412.8 431.1,412.2 431.9,411.5 432.7,410.8 433.5,410.2 434.3,409.5 435.1,408.8 435.9,408.2 436.7,407.5 437.5,407 438.3,406.8 439.1,406.7 439.9,406.5 440.7,406.4 441.5,406.2 442.3,406.1 443.1,405.9 443.9,405.8 444.8,405.8 445.6,405.9 446.4,405.9 447.2,406 448,406 448.8,406.1 449.6,406.1 450.4,406.1 451.2,406.2 452,406.8 452.8,407.7 453.6,408.6 454.4,409.5 455.2,410.4 456,411.5 456.8,412.6 457.6,413.8 458.4,414.9 459.2,416 460,417 460.9,417.9 461.7,418.9 462.5,419.8 463.3,420.6 464.1,421.4 464.9,422.2 465.7,422.9 466.5,423.7 467.3,424.4 468.1,425.2 468.9,425.9 469.7,426.5 470.5,426.6 471.3,426.6 472.1,426.7 472.9,426.8 473.7,426.8 474.5,426.8 475.3,426.8 476.1,426.8 477,426.8 477.8,426.8 478.6,426.8 479.4,426.8 480.2,426.7 481,426.4 481.8,426.1 482.6,425.8 483.4,425.5 484.2,425.2 485,424.9 485.8,424.3 486.6,423.7 487.4,423.1 488.2,422.5 489,421.9 489.8,421.3 490.6,420.7 491.4,420.1 492.2,419.5 493.1,418.9 493.9,418.3 494.7,417.7 495.5,417.1 496.3,416.7 497.1,416.7 497.9,416.6 498.7,416.5 499.5,416.4 500.3,416.3 501.1,416.2 501.9,416.3 502.7,416.4 503.5,416.5 504.3,416.6 505.1,416.7 505.9,416.7 506.7,417.1 507.5,417.7 508.3,418.3 509.2,418.9 510,419.5 510.8,420.1 511.6,420.7 512.4,421.6 513.2,422.5 514,423.5 514.8,424.4 515.6,425.4 516.4,426.3 517.2,427.1 518,427.7 518.8,428.2 519.6,428.7 520.4,429.3 521.2,429.8 522,430.3 522.8,430.8 523.6,431.2 524.4,431.7 525.2,432.1 526.1,432.5 526.9,432.6 527.7,432.7 528.5,432.8 529.3,432.9 530.1,433 530.9,433.1 531.7,433.2 532.5,433.1 533.3,433.1 534.1,433 534.9,432.9 535.7,432.8 536.5,432.7 537.3,432.6 538.1,432.5 538.9,432.2 539.7,431.9 540.5,431.6 541.4,431.3 542.2,430.9 543,430.6 543.8,430.3 544.6,429.9 545.4,429.2 546.2,428.5 547,427.7 547.8,427 548.6,426.3 549.4,425.7 550.2,425.3 551,424.9 551.8,424.5 552.6,424.1 553.4,423.7 554.2,423.3 555,423.1 555.8,422.9 556.6,422.7 557.5,422.5 558.3,422.3 559.1,422.1 559.9,422.1 560.7,422.2 561.5,422.2" fill="none" stroke="#00B050" stroke-width="3" stroke-linejoin="round" stroke-linecap="round"/><path d="M82.5 201.9l3.9 8.2h-7.8zM83.3 210.8l3.9 8.2h-7.8zM84.1 225.3l3.9 8.2h-7.8zM84.9 236.9l3.9 8.2h-7.8zM85.7 244.4l3.9 8.2h-7.8zM86.5 248.9l3.9 8.2h-7.8zM87.3 250.2l3.9 8.2h-7.8zM88.1 251.5l3.9 8.2h-7.8zM88.9 252.7l3.9 8.2h-7.8zM89.7 254l3.9 8.2h-7.8zM90.5 254.4l3.9 8.2h-7.8zM91.4 254.5l3.9 8.2h-7.8zM92.2 254.5l3.9 8.2h-7.8zM93 254.5l3.9 8.2h-7.8zM93.8 254.6l3.9 8.2h-7.8zM94.6 254.6l3.9 8.2h-7.8zM95.4 254.7l3.9 8.2h-7.8zM96.2 254.7l3.9 8.2h-7.8zM97 254.7l3.9 8.2h-7.8zM97.8 254.8l3.9 8.2h-7.8zM98.6 254.8l3.9 8.2h-7.8zM99.4 254.9l3.9 8.2h-7.8zM100.2 254.9l3.9 8.2h-7.8zM101 254.7l3.9 8.2h-7.8zM101.8 254.6l3.9 8.2h-7.8zM102.6 254.5l3.9 8.2h-7.8zM103.4 254.3l3.9 8.2h-7.8zM104.2 254.2l3.9 8.2h-7.8zM105 254.1l3.9 8.2h-7.8zM105.8 253.9l3.9 8.2h-7.8zM106.7 254l3.9 8.2h-7.8zM107.5 254l3.9 8.2h-7.8zM108.3 254.1l3.9 8.2h-7.8zM109.1 254.2l3.9 8.2h-7.8zM109.9 254.2l3.9 8.2h-7.8zM110.7 254.3l3.9 8.2h-7.8zM111.5 254.4l3.9 8.2h-7.8zM112.3 257.1l3.9 8.2h-7.8zM113.1 261.1l3.9 8.2h-7.8zM113.9 265.4l3.9 8.2h-7.8zM114.7 269.7l3.9 8.2h-7.8zM115.5 274l3.9 8.2h-7.8zM116.3 278.5l3.9 8.2h-7.8zM117.1 284l3.9 8.2h-7.8zM117.9 287.4l3.9 8.2h-7.8zM118.7 289.6l3.9 8.2h-7.8zM119.5 290.4l3.9 8.2h-7.8zM120.3 290.5l3.9 8.2h-7.8zM121.1 290.6l3.9 8.2h-7.8zM121.9 290.6l3.9 8.2h-7.8zM122.8 290.7l3.9 8.2h-7.8zM123.6 290.8l3.9 8.2h-7.8zM124.4 290.8l3.9 8.2h-7.8zM125.2 290.9l3.9 8.2h-7.8zM126 290.9l3.9 8.2h-7.8zM126.8 290.8l3.9 8.2h-7.8zM127.6 290.8l3.9 8.2h-7.8zM128.4 290.8l3.9 8.2h-7.8zM129.2 290.7l3.9 8.2h-7.8zM130 290.7l3.9 8.2h-7.8zM130.8 289.6l3.9 8.2h-7.8zM131.6 288.6l3.9 8.2h-7.8zM132.4 287.5l3.9 8.2h-7.8zM133.2 287.1l3.9 8.2h-7.8zM134 286.7l3.9 8.2h-7.8zM134.8 286.3l3.9 8.2h-7.8zM135.6 286.2l3.9 8.2h-7.8zM136.4 286.2l3.9 8.2h-7.8zM137.2 286.2l3.9 8.2h-7.8zM138 286.2l3.9 8.2h-7.8zM138.8 286.2l3.9 8.2h-7.8zM139.7 286.2l3.9 8.2h-7.8zM140.5 286.2l3.9 8.2h-7.8zM141.3 286.4l3.9 8.2h-7.8zM142.1 286.8l3.9 8.2h-7.8zM142.9 287.3l3.9 8.2h-7.8zM143.7 287.8l3.9 8.2h-7.8zM144.5 288.2l3.9 8.2h-7.8zM145.3 290.4l3.9 8.2h-7.8zM146.1 293.6l3.9 8.2h-7.8zM146.9 296.9l3.9 8.2h-7.8zM147.7 300.7l3.9 8.2h-7.8zM148.5 304.5l3.9 8.2h-7.8zM149.3 306.4l3.9 8.2h-7.8zM150.1 308.1l3.9 8.2h-7.8zM150.9 309.7l3.9 8.2h-7.8zM151.7 310.3l3.9 8.2h-7.8zM152.5 310.7l3.9 8.2h-7.8zM153.3 311.1l3.9 8.2h-7.8zM154.1 311.5l3.9 8.2h-7.8zM154.9 311.9l3.9 8.2h-7.8zM155.8 312.3l3.9 8.2h-7.8zM156.6 312.5l3.9 8.2h-7.8zM157.4 312.6l3.9 8.2h-7.8zM158.2 312.8l3.9 8.2h-7.8zM159 312.9l3.9 8.2h-7.8zM159.8 313l3.9 8.2h-7.8zM160.6 313.2l3.9 8.2h-7.8zM161.4 313.3l3.9 8.2h-7.8zM162.2 313.3l3.9 8.2h-7.8zM163 313l3.9 8.2h-7.8zM163.8 312.7l3.9 8.2h-7.8zM164.6 312.3l3.9 8.2h-7.8zM165.4 312l3.9 8.2h-7.8zM166.2 311.6l3.9 8.2h-7.8zM167 311.3l3.9 8.2h-7.8zM167.8 311.1l3.9 8.2h-7.8zM168.6 310.9l3.9 8.2h-7.8zM169.4 310.7l3.9 8.2h-7.8zM170.2 310.5l3.9 8.2h-7.8zM171.1 310.2l3.9 8.2h-7.8zM171.9 310l3.9 8.2h-7.8zM172.7 309.8l3.9 8.2h-7.8zM173.5 309.6l3.9 8.2h-7.8zM174.3 309.4l3.9 8.2h-7.8zM175.1 309.8l3.9 8.2h-7.8zM175.9 310.2l3.9 8.2h-7.8zM176.7 310.6l3.9 8.2h-7.8zM177.5 311.1l3.9 8.2h-7.8zM178.3 311.5l3.9 8.2h-7.8zM179.1 311.9l3.9 8.2h-7.8zM179.9 312.3l3.9 8.2h-7.8zM180.7 314l3.9 8.2h-7.8zM181.5 315.8l3.9 8.2h-7.8zM182.3 317.7l3.9 8.2h-7.8zM183.1 320.1l3.9 8.2h-7.8zM183.9 322.9l3.9 8.2h-7.8zM184.7 325.7l3.9 8.2h-7.8zM185.5 328.2l3.9 8.2h-7.8zM186.3 330.2l3.9 8.2h-7.8zM187.2 332.1l3.9 8.2h-7.8zM188 334.1l3.9 8.2h-7.8zM188.8 335.1l3.9 8.2h-7.8zM189.6 336.1l3.9 8.2h-7.8zM190.4 337.1l3.9 8.2h-7.8zM191.2 338l3.9 8.2h-7.8zM192 338.9l3.9 8.2h-7.8zM192.8 338.7l3.9 8.2h-7.8zM193.6 338.5l3.9 8.2h-7.8zM194.4 338.2l3.9 8.2h-7.8zM195.2 338l3.9 8.2h-7.8zM196 337.8l3.9 8.2h-7.8zM196.8 337.6l3.9 8.2h-7.8zM197.6 337.2l3.9 8.2h-7.8zM198.4 336.6l3.9 8.2h-7.8zM199.2 336l3.9 8.2h-7.8zM200 335.4l3.9 8.2h-7.8zM200.8 334.8l3.9 8.2h-7.8zM201.6 334.2l3.9 8.2h-7.8zM202.4 333.6l3.9 8.2h-7.8zM203.2 332.8l3.9 8.2h-7.8zM204.1 332l3.9 8.2h-7.8zM204.9 331.2l3.9 8.2h-7.8zM205.7 330.4l3.9 8.2h-7.8zM206.5 329.6l3.9 8.2h-7.8zM207.3 329.6l3.9 8.2h-7.8zM208.1 329.6l3.9 8.2h-7.8zM208.9 329.6l3.9 8.2h-7.8zM209.7 329.6l3.9 8.2h-7.8zM210.5 329.6l3.9 8.2h-7.8zM211.3 330l3.9 8.2h-7.8zM212.1 330.4l3.9 8.2h-7.8zM212.9 330.8l3.9 8.2h-7.8zM213.7 331.2l3.9 8.2h-7.8zM214.5 331.8l3.9 8.2h-7.8zM215.3 333l3.9 8.2h-7.8zM216.1 334.2l3.9 8.2h-7.8zM216.9 335.3l3.9 8.2h-7.8zM217.7 336.5l3.9 8.2h-7.8zM218.5 337.8l3.9 8.2h-7.8zM219.3 339.8l3.9 8.2h-7.8zM220.2 341.7l3.9 8.2h-7.8zM221 343.6l3.9 8.2h-7.8zM221.8 345.1l3.9 8.2h-7.8zM222.6 346.4l3.9 8.2h-7.8zM223.4 347.7l3.9 8.2h-7.8zM224.2 349l3.9 8.2h-7.8zM225 350.3l3.9 8.2h-7.8zM225.8 351.6l3.9 8.2h-7.8zM226.6 352.9l3.9 8.2h-7.8zM227.4 353.2l3.9 8.2h-7.8zM228.2 353.6l3.9 8.2h-7.8zM229 353.9l3.9 8.2h-7.8zM229.8 354.3l3.9 8.2h-7.8zM230.6 354.6l3.9 8.2h-7.8zM231.4 354.9l3.9 8.2h-7.8zM232.2 355.3l3.9 8.2h-7.8zM233 355.6l3.9 8.2h-7.8zM233.8 355.6l3.9 8.2h-7.8zM234.6 355.4l3.9 8.2h-7.8zM235.5 355.2l3.9 8.2h-7.8zM236.3 355.1l3.9 8.2h-7.8zM237.1 354.9l3.9 8.2h-7.8zM237.9 354.7l3.9 8.2h-7.8zM238.7 354.6l3.9 8.2h-7.8zM239.5 354.4l3.9 8.2h-7.8zM240.3 354l3.9 8.2h-7.8zM241.1 353.3l3.9 8.2h-7.8zM241.9 352.7l3.9 8.2h-7.8zM242.7 352.1l3.9 8.2h-7.8zM243.5 351.4l3.9 8.2h-7.8zM244.3 350.8l3.9 8.2h-7.8zM245.1 350.1l3.9 8.2h-7.8zM245.9 349.5l3.9 8.2h-7.8zM246.7 348.9l3.9 8.2h-7.8zM247.5 348.5l3.9 8.2h-7.8zM248.3 348.1l3.9 8.2h-7.8zM249.1 347.7l3.9 8.2h-7.8zM249.9 347.3l3.9 8.2h-7.8zM250.7 347l3.9 8.2h-7.8zM251.6 346.6l3.9 8.2h-7.8zM252.4 346.2l3.9 8.2h-7.8zM253.2 345.8l3.9 8.2h-7.8zM254 345.4l3.9 8.2h-7.8zM254.8 346l3.9 8.2h-7.8zM255.6 346.7l3.9 8.2h-7.8zM256.4 347.3l3.9 8.2h-7.8zM257.2 347.9l3.9 8.2h-7.8zM258 348.6l3.9 8.2h-7.8zM258.8 349.5l3.9 8.2h-7.8zM259.6 350.7l3.9 8.2h-7.8zM260.4 351.9l3.9 8.2h-7.8zM261.2 353.1l3.9 8.2h-7.8zM262 354.4l3.9 8.2h-7.8zM262.8 355.6l3.9 8.2h-7.8zM263.6 356.8l3.9 8.2h-7.8zM264.4 358.6l3.9 8.2h-7.8zM265.2 360.5l3.9 8.2h-7.8zM266 362.5l3.9 8.2h-7.8zM266.8 364.4l3.9 8.2h-7.8zM267.6 366.3l3.9 8.2h-7.8zM268.5 367.1l3.9 8.2h-7.8zM269.3 367.9l3.9 8.2h-7.8zM270.1 368.7l3.9 8.2h-7.8zM270.9 369.5l3.9 8.2h-7.8zM271.7 370.3l3.9 8.2h-7.8zM272.5 371.1l3.9 8.2h-7.8zM273.3 371.6l3.9 8.2h-7.8zM274.1 371.6l3.9 8.2h-7.8zM274.9 371.6l3.9 8.2h-7.8zM275.7 371.6l3.9 8.2h-7.8zM276.5 371.6l3.9 8.2h-7.8zM277.3 371.6l3.9 8.2h-7.8zM278.1 371.6l3.9 8.2h-7.8zM278.9 371.6l3.9 8.2h-7.8zM279.7 371.5l3.9 8.2h-7.8zM280.5 371l3.9 8.2h-7.8zM281.3 370.5l3.9 8.2h-7.8zM282.1 370l3.9 8.2h-7.8zM282.9 369.5l3.9 8.2h-7.8zM283.8 369.1l3.9 8.2h-7.8zM284.6 368.4l3.9 8.2h-7.8zM285.4 367.7l3.9 8.2h-7.8zM286.2 367.1l3.9 8.2h-7.8zM287 366.4l3.9 8.2h-7.8zM287.8 365.7l3.9 8.2h-7.8zM288.6 365l3.9 8.2h-7.8zM289.4 364.4l3.9 8.2h-7.8zM290.2 364.1l3.9 8.2h-7.8zM291 363.8l3.9 8.2h-7.8zM291.8 363.5l3.9 8.2h-7.8zM292.6 363.2l3.9 8.2h-7.8zM293.4 362.8l3.9 8.2h-7.8zM294.2 362.5l3.9 8.2h-7.8zM295 362.4l3.9 8.2h-7.8zM295.8 362.4l3.9 8.2h-7.8zM296.6 362.4l3.9 8.2h-7.8zM297.4 362.4l3.9 8.2h-7.8zM298.2 362.4l3.9 8.2h-7.8zM299 362.4l3.9 8.2h-7.8zM299.9 362.4l3.9 8.2h-7.8zM300.7 362.8l3.9 8.2h-7.8zM301.5 363.2l3.9 8.2h-7.8zM302.3 363.6l3.9 8.2h-7.8zM303.1 364.1l3.9 8.2h-7.8zM303.9 364.6l3.9 8.2h-7.8zM304.7 365.6l3.9 8.2h-7.8zM305.5 366.5l3.9 8.2h-7.8zM306.3 367.5l3.9 8.2h-7.8zM307.1 368.4l3.9 8.2h-7.8zM307.9 369.4l3.9 8.2h-7.8zM308.7 370.5l3.9 8.2h-7.8zM309.5 371.6l3.9 8.2h-7.8zM310.3 372.7l3.9 8.2h-7.8zM311.1 373.8l3.9 8.2h-7.8zM311.9 375.2l3.9 8.2h-7.8zM312.7 376.7l3.9 8.2h-7.8zM313.5 378.2l3.9 8.2h-7.8zM314.3 379.7l3.9 8.2h-7.8zM315.1 381.1l3.9 8.2h-7.8zM316 382l3.9 8.2h-7.8zM316.8 382.9l3.9 8.2h-7.8zM317.6 383.8l3.9 8.2h-7.8zM318.4 384.8l3.9 8.2h-7.8zM319.2 385.7l3.9 8.2h-7.8zM320 386.4l3.9 8.2h-7.8zM320.8 386.5l3.9 8.2h-7.8zM321.6 386.7l3.9 8.2h-7.8zM322.4 386.8l3.9 8.2h-7.8zM323.2 386.9l3.9 8.2h-7.8zM324 387l3.9 8.2h-7.8zM324.8 387.2l3.9 8.2h-7.8zM325.6 387.3l3.9 8.2h-7.8zM326.4 387.4l3.9 8.2h-7.8zM327.2 387.1l3.9 8.2h-7.8zM328 386.8l3.9 8.2h-7.8zM328.8 386.5l3.9 8.2h-7.8zM329.6 386.2l3.9 8.2h-7.8zM330.4 385.9l3.9 8.2h-7.8zM331.2 385.6l3.9 8.2h-7.8zM332.1 385.3l3.9 8.2h-7.8zM332.9 385l3.9 8.2h-7.8zM333.7 384.4l3.9 8.2h-7.8zM334.5 383.7l3.9 8.2h-7.8zM335.3 383.1l3.9 8.2h-7.8zM336.1 382.4l3.9 8.2h-7.8zM336.9 381.8l3.9 8.2h-7.8zM337.7 381.1l3.9 8.2h-7.8zM338.5 380.5l3.9 8.2h-7.8zM339.3 379.8l3.9 8.2h-7.8zM340.1 379.4l3.9 8.2h-7.8zM340.9 379.1l3.9 8.2h-7.8zM341.7 378.8l3.9 8.2h-7.8zM342.5 378.6l3.9 8.2h-7.8zM343.3 378.3l3.9 8.2h-7.8zM344.1 378l3.9 8.2h-7.8zM344.9 377.7l3.9 8.2h-7.8zM345.7 377.4l3.9 8.2h-7.8zM346.5 377.1l3.9 8.2h-7.8zM347.3 377.5l3.9 8.2h-7.8zM348.2 377.9l3.9 8.2h-7.8zM349 378.3l3.9 8.2h-7.8zM349.8 378.7l3.9 8.2h-7.8zM350.6 379.1l3.9 8.2h-7.8zM351.4 379.5l3.9 8.2h-7.8zM352.2 379.7l3.9 8.2h-7.8zM353 380.5l3.9 8.2h-7.8zM353.8 381.3l3.9 8.2h-7.8zM354.6 382.1l3.9 8.2h-7.8zM355.4 382.9l3.9 8.2h-7.8zM356.2 383.8l3.9 8.2h-7.8zM357 384.7l3.9 8.2h-7.8zM357.8 385.6l3.9 8.2h-7.8zM358.6 386.5l3.9 8.2h-7.8zM359.4 387.4l3.9 8.2h-7.8zM360.2 388.5l3.9 8.2h-7.8zM361 389.8l3.9 8.2h-7.8zM361.8 391.1l3.9 8.2h-7.8zM362.6 392.4l3.9 8.2h-7.8zM363.4 393.7l3.9 8.2h-7.8zM364.2 395l3.9 8.2h-7.8zM365.1 396.3l3.9 8.2h-7.8zM365.9 397.7l3.9 8.2h-7.8zM366.7 399l3.9 8.2h-7.8zM367.5 400.4l3.9 8.2h-7.8zM368.3 400.8l3.9 8.2h-7.8zM369.1 400.8l3.9 8.2h-7.8zM369.9 400.7l3.9 8.2h-7.8zM370.7 400.6l3.9 8.2h-7.8zM371.5 400.5l3.9 8.2h-7.8zM372.3 400.4l3.9 8.2h-7.8zM373.1 400.3l3.9 8.2h-7.8zM373.9 400.1l3.9 8.2h-7.8zM374.7 399.9l3.9 8.2h-7.8zM375.5 399.7l3.9 8.2h-7.8zM376.3 399.5l3.9 8.2h-7.8zM377.1 399.3l3.9 8.2h-7.8zM377.9 399.1l3.9 8.2h-7.8zM378.7 398.7l3.9 8.2h-7.8zM379.5 398.1l3.9 8.2h-7.8zM380.4 397.5l3.9 8.2h-7.8zM381.2 396.9l3.9 8.2h-7.8zM382 396.3l3.9 8.2h-7.8zM382.8 395.7l3.9 8.2h-7.8zM383.6 395.1l3.9 8.2h-7.8zM384.4 394.5l3.9 8.2h-7.8zM385.2 393.9l3.9 8.2h-7.8zM386 393.3l3.9 8.2h-7.8zM386.8 392.7l3.9 8.2h-7.8zM387.6 392.1l3.9 8.2h-7.8zM388.4 391.5l3.9 8.2h-7.8zM389.2 391l3.9 8.2h-7.8zM390 391l3.9 8.2h-7.8zM390.8 391l3.9 8.2h-7.8zM391.6 391l3.9 8.2h-7.8zM392.4 391l3.9 8.2h-7.8zM393.2 391l3.9 8.2h-7.8zM394 391l3.9 8.2h-7.8zM394.8 391.4l3.9 8.2h-7.8zM395.6 392.1l3.9 8.2h-7.8zM396.5 392.8l3.9 8.2h-7.8zM397.3 393.5l3.9 8.2h-7.8zM398.1 394.1l3.9 8.2h-7.8zM398.9 394.8l3.9 8.2h-7.8zM399.7 395.5l3.9 8.2h-7.8zM400.5 396.5l3.9 8.2h-7.8zM401.3 397.5l3.9 8.2h-7.8zM402.1 398.6l3.9 8.2h-7.8zM402.9 399.6l3.9 8.2h-7.8zM403.7 400.6l3.9 8.2h-7.8zM404.5 401.6l3.9 8.2h-7.8zM405.3 402.6l3.9 8.2h-7.8zM406.1 403.7l3.9 8.2h-7.8zM406.9 404.8l3.9 8.2h-7.8zM407.7 406l3.9 8.2h-7.8zM408.5 407.1l3.9 8.2h-7.8zM409.3 408.3l3.9 8.2h-7.8zM410.1 409.4l3.9 8.2h-7.8zM410.9 410.6l3.9 8.2h-7.8zM411.7 411.8l3.9 8.2h-7.8zM412.6 412.1l3.9 8.2h-7.8zM413.4 412.2l3.9 8.2h-7.8zM414.2 412.3l3.9 8.2h-7.8zM415 412.4l3.9 8.2h-7.8zM415.8 412.5l3.9 8.2h-7.8zM416.6 412.6l3.9 8.2h-7.8zM417.4 412.7l3.9 8.2h-7.8zM418.2 412.7l3.9 8.2h-7.8zM419 412.7l3.9 8.2h-7.8zM419.8 412.7l3.9 8.2h-7.8zM420.6 412.7l3.9 8.2h-7.8zM421.4 412.7l3.9 8.2h-7.8zM422.2 412.7l3.9 8.2h-7.8zM423 412.5l3.9 8.2h-7.8zM423.8 412.2l3.9 8.2h-7.8zM424.6 411.9l3.9 8.2h-7.8zM425.4 411.6l3.9 8.2h-7.8zM426.2 411.3l3.9 8.2h-7.8zM427 411l3.9 8.2h-7.8zM427.8 410.7l3.9 8.2h-7.8zM428.7 410l3.9 8.2h-7.8zM429.5 409.4l3.9 8.2h-7.8zM430.3 408.7l3.9 8.2h-7.8zM431.1 408.1l3.9 8.2h-7.8zM431.9 407.4l3.9 8.2h-7.8zM432.7 406.7l3.9 8.2h-7.8zM433.5 406.1l3.9 8.2h-7.8zM434.3 405.4l3.9 8.2h-7.8zM435.1 404.7l3.9 8.2h-7.8zM435.9 404.1l3.9 8.2h-7.8zM436.7 403.4l3.9 8.2h-7.8zM437.5 402.9l3.9 8.2h-7.8zM438.3 402.7l3.9 8.2h-7.8zM439.1 402.6l3.9 8.2h-7.8zM439.9 402.4l3.9 8.2h-7.8zM440.7 402.3l3.9 8.2h-7.8zM441.5 402.1l3.9 8.2h-7.8zM442.3 402l3.9 8.2h-7.8zM443.1 401.8l3.9 8.2h-7.8zM443.9 401.7l3.9 8.2h-7.8zM444.8 401.7l3.9 8.2h-7.8zM445.6 401.8l3.9 8.2h-7.8zM446.4 401.8l3.9 8.2h-7.8zM447.2 401.9l3.9 8.2h-7.8zM448 401.9l3.9 8.2h-7.8zM448.8 402l3.9 8.2h-7.8zM449.6 402l3.9 8.2h-7.8zM450.4 402l3.9 8.2h-7.8zM451.2 402.1l3.9 8.2h-7.8zM452 402.7l3.9 8.2h-7.8zM452.8 403.6l3.9 8.2h-7.8zM453.6 404.5l3.9 8.2h-7.8zM454.4 405.4l3.9 8.2h-7.8zM455.2 406.3l3.9 8.2h-7.8zM456 407.4l3.9 8.2h-7.8zM456.8 408.5l3.9 8.2h-7.8zM457.6 409.7l3.9 8.2h-7.8zM458.4 410.8l3.9 8.2h-7.8zM459.2 411.9l3.9 8.2h-7.8zM460 412.9l3.9 8.2h-7.8zM460.9 413.8l3.9 8.2h-7.8zM461.7 414.8l3.9 8.2h-7.8zM462.5 415.7l3.9 8.2h-7.8zM463.3 416.5l3.9 8.2h-7.8zM464.1 417.3l3.9 8.2h-7.8zM464.9 418.1l3.9 8.2h-7.8zM465.7 418.8l3.9 8.2h-7.8zM466.5 419.6l3.9 8.2h-7.8zM467.3 420.3l3.9 8.2h-7.8zM468.1 421.1l3.9 8.2h-7.8zM468.9 421.8l3.9 8.2h-7.8zM469.7 422.4l3.9 8.2h-7.8zM470.5 422.5l3.9 8.2h-7.8zM471.3 422.5l3.9 8.2h-7.8zM472.1 422.6l3.9 8.2h-7.8zM472.9 422.7l3.9 8.2h-7.8zM473.7 422.7l3.9 8.2h-7.8zM474.5 422.7l3.9 8.2h-7.8zM475.3 422.7l3.9 8.2h-7.8zM476.1 422.7l3.9 8.2h-7.8zM477 422.7l3.9 8.2h-7.8zM477.8 422.7l3.9 8.2h-7.8zM478.6 422.7l3.9 8.2h-7.8zM479.4 422.7l3.9 8.2h-7.8zM480.2 422.6l3.9 8.2h-7.8zM481 422.3l3.9 8.2h-7.8zM481.8 422l3.9 8.2h-7.8zM482.6 421.7l3.9 8.2h-7.8zM483.4 421.4l3.9 8.2h-7.8zM484.2 421.1l3.9 8.2h-7.8zM485 420.8l3.9 8.2h-7.8zM485.8 420.2l3.9 8.2h-7.8zM486.6 419.6l3.9 8.2h-7.8zM487.4 419l3.9 8.2h-7.8zM488.2 418.4l3.9 8.2h-7.8zM489 417.8l3.9 8.2h-7.8zM489.8 417.2l3.9 8.2h-7.8zM490.6 416.6l3.9 8.2h-7.8zM491.4 416l3.9 8.2h-7.8zM492.2 415.4l3.9 8.2h-7.8zM493.1 414.8l3.9 8.2h-7.8zM493.9 414.2l3.9 8.2h-7.8zM494.7 413.6l3.9 8.2h-7.8zM495.5 413l3.9 8.2h-7.8zM496.3 412.6l3.9 8.2h-7.8zM497.1 412.6l3.9 8.2h-7.8zM497.9 412.5l3.9 8.2h-7.8zM498.7 412.4l3.9 8.2h-7.8zM499.5 412.3l3.9 8.2h-7.8zM500.3 412.2l3.9 8.2h-7.8zM501.1 412.1l3.9 8.2h-7.8zM501.9 412.2l3.9 8.2h-7.8zM502.7 412.3l3.9 8.2h-7.8zM503.5 412.4l3.9 8.2h-7.8zM504.3 412.5l3.9 8.2h-7.8zM505.1 412.6l3.9 8.2h-7.8zM505.9 412.6l3.9 8.2h-7.8zM506.7 413l3.9 8.2h-7.8zM507.5 413.6l3.9 8.2h-7.8zM508.3 414.2l3.9 8.2h-7.8zM509.2 414.8l3.9 8.2h-7.8zM510 415.4l3.9 8.2h-7.8zM510.8 416l3.9 8.2h-7.8zM511.6 416.6l3.9 8.2h-7.8zM512.4 417.5l3.9 8.2h-7.8zM513.2 418.4l3.9 8.2h-7.8zM514 419.4l3.9 8.2h-7.8zM514.8 420.3l3.9 8.2h-7.8zM515.6 421.3l3.9 8.2h-7.8zM516.4 422.2l3.9 8.2h-7.8zM517.2 423l3.9 8.2h-7.8zM518 423.6l3.9 8.2h-7.8zM518.8 424.1l3.9 8.2h-7.8zM519.6 424.6l3.9 8.2h-7.8zM520.4 425.2l3.9 8.2h-7.8zM521.2 425.7l3.9 8.2h-7.8zM522 426.2l3.9 8.2h-7.8zM522.8 426.7l3.9 8.2h-7.8zM523.6 427.1l3.9 8.2h-7.8zM524.4 427.6l3.9 8.2h-7.8zM525.2 428l3.9 8.2h-7.8zM526.1 428.4l3.9 8.2h-7.8zM526.9 428.5l3.9 8.2h-7.8zM527.7 428.6l3.9 8.2h-7.8zM528.5 428.7l3.9 8.2h-7.8zM529.3 428.8l3.9 8.2h-7.8zM530.1 428.9l3.9 8.2h-7.8zM530.9 429l3.9 8.2h-7.8zM531.7 429.1l3.9 8.2h-7.8zM532.5 429l3.9 8.2h-7.8zM533.3 429l3.9 8.2h-7.8zM534.1 428.9l3.9 8.2h-7.8zM534.9 428.8l3.9 8.2h-7.8zM535.7 428.7l3.9 8.2h-7.8zM536.5 428.6l3.9 8.2h-7.8zM537.3 428.5l3.9 8.2h-7.8zM538.1 428.4l3.9 8.2h-7.8zM538.9 428.1l3.9 8.2h-7.8zM539.7 427.8l3.9 8.2h-7.8zM540.5 427.5l3.9 8.2h-7.8zM541.4 427.2l3.9 8.2h-7.8zM542.2 426.8l3.9 8.2h-7.8zM543 426.5l3.9 8.2h-7.8zM543.8 426.2l3.9 8.2h-7.8zM544.6 425.8l3.9 8.2h-7.8zM545.4 425.1l3.9 8.2h-7.8zM546.2 424.4l3.9 8.2h-7.8zM547 423.6l3.9 8.2h-7.8zM547.8 422.9l3.9 8.2h-7.8zM548.6 422.2l3.9 8.2h-7.8zM549.4 421.6l3.9 8.2h-7.8zM550.2 421.2l3.9 8.2h-7.8zM551 420.8l3.9 8.2h-7.8zM551.8 420.4l3.9 8.2h-7.8zM552.6 420l3.9 8.2h-7.8zM553.4 419.6l3.9 8.2h-7.8zM554.2 419.2l3.9 8.2h-7.8zM555 419l3.9 8.2h-7.8zM555.8 418.8l3.9 8.2h-7.8zM556.6 418.6l3.9 8.2h-7.8zM557.5 418.4l3.9 8.2h-7.8zM558.3 418.2l3.9 8.2h-7.8zM559.1 418l3.9 8.2h-7.8zM559.9 418l3.9 8.2h-7.8zM560.7 418.1l3.9 8.2h-7.8zM561.5 418.1l3.9 8.2h-7.8z" fill="#00B050"/><polyline points="82.5,468 86,463.9 88.1,461 90.7,454.5 92.5,453 95.4,452.3 102.6,452.3 104.8,456 106.6,461 109.2,463.3 118.6,463.3 120.1,449.8 123,441.8 125.8,432.7 127.5,422.5 129.2,421.1 137.7,420.8 139.4,430.5 142.3,447.5 144.5,462.5 145.5,463.3 153.6,463.3 154.7,457.1 155.4,451 156,444.8 156.6,438.7 157.1,432.5 157.6,426.4 158.1,420.2 158.6,414 159.1,407.9 159.5,401.7 160,395.6 160.4,389.4 173.2,389.4 173.5,395.6 173.9,401.7 174.3,407.9 174.7,414 175.1,420.2 175.6,426.4 176.1,432.5 176.7,438.7 177.3,444.8 178.1,451 179,457.1 180,463.3 190.7,463.3 192.1,454.4 193.1,445.5 194,436.6 194.7,427.7 195.5,418.8 196.2,409.9 196.8,401 197.5,392.1 198.1,383.2 198.7,374.3 199.3,365.4 199.9,356.5 210.1,357 210.6,365.9 211.1,374.7 211.6,383.6 212.2,392.4 212.8,401.3 213.5,410.1 214.3,419 215.1,427.9 216,436.7 217.1,445.6 218.3,454.4 219.8,463.3 232.4,463.3 233.7,451.9 234.7,440.4 235.5,429 236.2,417.5 236.9,406.1 237.6,394.6 238.2,383.2 238.8,371.8 239.4,360.3 240,348.9 240.6,337.4 241.1,326 251.1,326 251.6,337.4 252.1,348.9 252.6,360.3 253.2,371.8 253.9,383.2 254.6,394.6 255.3,406.1 256.2,417.5 257.1,429 258.2,440.4 259.5,451.9 261,463.3 273.3,463.3 274.9,449.2 275.9,435.1 276.8,421 277.7,406.9 278.5,392.8 279.2,378.8 280,364.7 280.7,350.6 281.4,336.5 282,322.4 282.7,308.3 283.3,294.2 295,294.2 295.6,308.3 296.3,322.4 297.1,336.5 297.9,350.6 298.7,364.7 299.7,378.8 300.7,392.8 301.8,406.9 303.1,421 304.6,435.1 306.3,449.2 308.3,463.3 318.1,463.3 320,446.6 321.2,429.8 322.3,413.1 323.4,396.4 324.3,379.6 325.2,362.9 326.1,346.2 327,329.4 327.8,312.7 328.6,296 329.3,279.2 330.1,262.5 341.5,262.5 342.2,279.2 342.9,296 343.7,312.7 344.5,329.4 345.4,346.2 346.4,362.9 347.4,379.6 348.6,396.4 350,413.1 351.5,429.8 353.3,446.6 355.4,463.3 366.5,463.3 368.3,444 369.6,424.7 370.7,405.4 371.7,386 372.7,366.7 373.6,347.4 374.4,328.1 375.3,308.8 376.1,289.4 376.9,270.1 377.6,250.8 378.4,231.5 388.8,231.5 389.7,250.8 390.6,270.1 391.6,289.4 392.7,308.8 393.8,328.1 395.1,347.4 396.5,366.7 398,386 399.7,405.4 401.7,424.7 404,444 406.7,463.3 417.7,463.3 420.1,441.4 421.8,419.4 423.2,397.5 424.5,375.5 425.8,353.6 427,331.6 428.1,309.7 429.2,287.8 430.3,265.8 431.3,243.9 432.3,221.9 433.3,200 445,199.5 446,221.5 447.2,243.5 448.4,265.4 449.6,287.4 451,309.4 452.5,331.4 454.2,353.4 456,375.4 458.1,397.4 460.5,419.3 463.2,441.3 466.5,463.3 477.2,463.3 479.4,438.7 480.9,414.1 482.2,389.5 483.4,364.9 484.5,340.3 485.6,315.6 486.6,291 487.6,266.4 488.6,241.8 489.5,217.2 490.4,192.6 491.3,168 500.6,168 501.6,192.6 502.6,217.2 503.8,241.8 505,266.4 506.3,291 507.7,315.6 509.3,340.3 511,364.9 513,389.5 515.2,414.1 517.8,438.7 520.9,463.3 531,463.3 531.8,444 532.6,425.2 533.5,408.1 534.3,391.1 535.3,374 536,357 536.8,341 537.7,312.6 538.3,298.4 538.9,284.2 539.4,268 539.8,255.5 540.2,244.1 540.7,232.7 541.3,221.4 542.2,208 543.1,195.5 543.8,184.1 544.6,172.7 545.5,161.4 546.3,153.5 547,152 552.6,152 553.1,161.4 553.7,172.7 554.3,184.1 555,195.5 555.6,208 556.1,221.4 556.6,232.7 557.2,244.1 557.9,255.5 558.7,266.8 559.9,284.2 560.8,298.4 561.8,312.6 562.9,326.8 564,341 565.1,357 566.4,374 567.8,391.1 569.2,408.1 570.7,425.2 572.2,440 573.7,452 575,460.5 576.2,463.3 586.2,463.3" fill="none" stroke="#FFC000" stroke-width="2.9" stroke-linejoin="round" stroke-linecap="round"/><g font-family="Carlito, 'Liberation Sans', sans-serif" font-weight="bold" font-size="21.3" fill="#000"><text x="61.5" y="79" text-anchor="end" textLength="10.80" lengthAdjust="spacingAndGlyphs">4</text><text x="623" y="79" textLength="32.39" lengthAdjust="spacingAndGlyphs">250</text><text x="61.5" y="158" text-anchor="end" textLength="27.28" lengthAdjust="spacingAndGlyphs">3.7</text><text x="623" y="158" textLength="32.39" lengthAdjust="spacingAndGlyphs">200</text><text x="61.5" y="237" text-anchor="end" textLength="27.28" lengthAdjust="spacingAndGlyphs">3.4</text><text x="623" y="237" textLength="32.39" lengthAdjust="spacingAndGlyphs">150</text><text x="61.5" y="316" text-anchor="end" textLength="27.28" lengthAdjust="spacingAndGlyphs">3.1</text><text x="623" y="316" textLength="32.39" lengthAdjust="spacingAndGlyphs">100</text><text x="61.5" y="395" text-anchor="end" textLength="27.28" lengthAdjust="spacingAndGlyphs">2.8</text><text x="623" y="395" textLength="21.59" lengthAdjust="spacingAndGlyphs">50</text><text x="61.5" y="474" text-anchor="end" textLength="27.28" lengthAdjust="spacingAndGlyphs">2.5</text><text x="623" y="474" textLength="10.80" lengthAdjust="spacingAndGlyphs">0</text><text x="81.5" y="502" text-anchor="middle" textLength="10.80" lengthAdjust="spacingAndGlyphs">0</text><text x="242.5" y="502" text-anchor="middle" textLength="32.39" lengthAdjust="spacingAndGlyphs">200</text><text x="403.5" y="502" text-anchor="middle" textLength="32.39" lengthAdjust="spacingAndGlyphs">400</text><text x="564.5" y="502" text-anchor="middle" textLength="32.39" lengthAdjust="spacingAndGlyphs">600</text></g><g font-family="Carlito, 'Liberation Sans', sans-serif" font-weight="bold" font-size="24.8" fill="#000"><text x="341.6" y="517.5" text-anchor="middle" textLength="76.38" lengthAdjust="spacingAndGlyphs">Time(s)</text><text transform="translate(28.2 272) rotate(-90)" text-anchor="middle" textLength="155.33" lengthAdjust="spacingAndGlyphs">Thickness(mm)</text><text transform="translate(680.8 271) rotate(-90)" text-anchor="middle" textLength="150.41" lengthAdjust="spacingAndGlyphs">Pressure(MPa)</text></g><line x1="142.5" y1="131.5" x2="182.5" y2="131.5" stroke="#000" stroke-width="3" stroke-linecap="round"/><path d="M162.5 127.5l3.7 7.4h-7.4z" fill="#000"/><line x1="299.5" y1="131.5" x2="339.5" y2="131.5" stroke="#FF0000" stroke-width="3" stroke-linecap="round"/><path d="M319.5 127.5l3.7 7.4h-7.4z" fill="#FF0000"/><line x1="142.5" y1="175.5" x2="182.5" y2="175.5" stroke="#00B050" stroke-width="3" stroke-linecap="round"/><path d="M162.5 171.5l3.7 7.4h-7.4z" fill="#00B050"/><line x1="299.5" y1="175.5" x2="339.5" y2="175.5" stroke="#FFC000" stroke-width="3" stroke-linecap="round"/><g font-family="Carlito, 'Liberation Sans', sans-serif" font-weight="bold" font-size="21.7" fill="#000"><text x="187" y="137.8" textLength="77.70" lengthAdjust="spacingAndGlyphs">NCM111</text><text x="344" y="137.5" textLength="77.70" lengthAdjust="spacingAndGlyphs">NCM622</text><text x="187" y="181.5" textLength="77.70" lengthAdjust="spacingAndGlyphs">NCM811</text><text x="344" y="181.5" textLength="77.27" lengthAdjust="spacingAndGlyphs">Pressure</text></g><text x="157.3" y="41.7" font-family="Carlito, 'Liberation Sans', sans-serif" font-weight="bold" font-size="29.25" fill="#000" textLength="356.58" lengthAdjust="spacingAndGlyphs">Time Vs Thickness &amp; Pressure</text><g font-family="Carlito, 'Liberation Sans', sans-serif" font-weight="bold" fill="#000"><text x="33.8" y="43.9" font-size="30" textLength="9.36" lengthAdjust="spacingAndGlyphs">(</text><text x="45.1" y="44.6" font-size="28.5" textLength="14.08" lengthAdjust="spacingAndGlyphs">a</text><text x="60.7" y="43.9" font-size="30" textLength="9.36" lengthAdjust="spacingAndGlyphs">)</text></g></svg></body></html>
